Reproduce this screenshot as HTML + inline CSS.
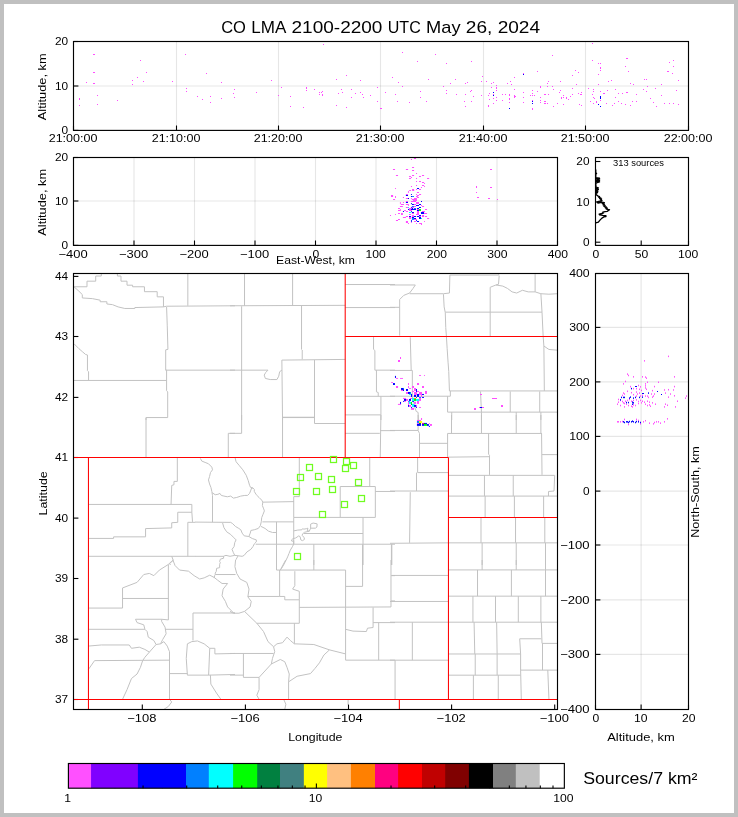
<!DOCTYPE html>
<html><head><meta charset="utf-8"><title>CO LMA 2100-2200 UTC May 26, 2024</title>
<style>
html,body{margin:0;padding:0;background:#fff;}
body{width:738px;height:817px;overflow:hidden;font-family:"Liberation Sans", sans-serif;}
svg{display:block;}
text{font-family:"Liberation Sans", sans-serif;}
</style></head><body>
<svg width="738" height="817" viewBox="0 0 738 817" font-family='"Liberation Sans", sans-serif'>
<rect x="0" y="0" width="738" height="817" fill="#c0c0c0"/>
<rect x="4" y="4" width="730" height="809" fill="#fff"/>
<g opacity="0.999">
<text x="221.13" y="33.4" font-size="16.6" text-anchor="start" fill="#000" textLength="24.76" lengthAdjust="spacingAndGlyphs">CO</text>
<text x="251.19" y="33.4" font-size="16.6" text-anchor="start" fill="#000" textLength="35.07" lengthAdjust="spacingAndGlyphs">LMA</text>
<text x="291.56" y="33.4" font-size="16.6" text-anchor="start" fill="#000" textLength="90.87" lengthAdjust="spacingAndGlyphs">2100-2200</text>
<text x="387.73" y="33.4" font-size="16.6" text-anchor="start" fill="#000" textLength="33.05" lengthAdjust="spacingAndGlyphs">UTC</text>
<text x="426.07" y="33.4" font-size="16.6" text-anchor="start" fill="#000" textLength="34.46" lengthAdjust="spacingAndGlyphs">May</text>
<text x="465.84" y="33.4" font-size="16.6" text-anchor="start" fill="#000" textLength="26.51" lengthAdjust="spacingAndGlyphs">26,</text>
<text x="497.65" y="33.4" font-size="16.6" text-anchor="start" fill="#000" textLength="42.43" lengthAdjust="spacingAndGlyphs">2024</text>
<line x1="176.5" y1="41.5" x2="176.5" y2="130.4" stroke="#000" stroke-width="1.2" stroke-opacity="0.1"/>
<line x1="278.5" y1="41.5" x2="278.5" y2="130.4" stroke="#000" stroke-width="1.2" stroke-opacity="0.1"/>
<line x1="380.5" y1="41.5" x2="380.5" y2="130.4" stroke="#000" stroke-width="1.2" stroke-opacity="0.1"/>
<line x1="483.5" y1="41.5" x2="483.5" y2="130.4" stroke="#000" stroke-width="1.2" stroke-opacity="0.1"/>
<line x1="585.5" y1="41.5" x2="585.5" y2="130.4" stroke="#000" stroke-width="1.2" stroke-opacity="0.1"/>
<line x1="73.5" y1="86" x2="688.5" y2="86" stroke="#000" stroke-width="1.2" stroke-opacity="0.1"/>
<line x1="73.5" y1="130.4" x2="73.5" y2="125.5" stroke="#000" stroke-width="1.1"/>
<text x="48.67" y="142.3" font-size="10.9" text-anchor="start" fill="#000" textLength="48.86" lengthAdjust="spacingAndGlyphs">21:00:00</text>
<line x1="176.5" y1="130.4" x2="176.5" y2="125.5" stroke="#000" stroke-width="1.1"/>
<text x="151.67" y="142.3" font-size="10.9" text-anchor="start" fill="#000" textLength="48.86" lengthAdjust="spacingAndGlyphs">21:10:00</text>
<line x1="278.5" y1="130.4" x2="278.5" y2="125.5" stroke="#000" stroke-width="1.1"/>
<text x="253.67" y="142.3" font-size="10.9" text-anchor="start" fill="#000" textLength="48.86" lengthAdjust="spacingAndGlyphs">21:20:00</text>
<line x1="380.5" y1="130.4" x2="380.5" y2="125.5" stroke="#000" stroke-width="1.1"/>
<text x="355.67" y="142.3" font-size="10.9" text-anchor="start" fill="#000" textLength="48.86" lengthAdjust="spacingAndGlyphs">21:30:00</text>
<line x1="483.5" y1="130.4" x2="483.5" y2="125.5" stroke="#000" stroke-width="1.1"/>
<text x="458.67" y="142.3" font-size="10.9" text-anchor="start" fill="#000" textLength="48.86" lengthAdjust="spacingAndGlyphs">21:40:00</text>
<line x1="585.5" y1="130.4" x2="585.5" y2="125.5" stroke="#000" stroke-width="1.1"/>
<text x="560.67" y="142.3" font-size="10.9" text-anchor="start" fill="#000" textLength="48.86" lengthAdjust="spacingAndGlyphs">21:50:00</text>
<line x1="688.5" y1="130.4" x2="688.5" y2="125.5" stroke="#000" stroke-width="1.1"/>
<text x="663.67" y="142.3" font-size="10.9" text-anchor="start" fill="#000" textLength="48.86" lengthAdjust="spacingAndGlyphs">22:00:00</text>
<line x1="73.5" y1="130.4" x2="78.4" y2="130.4" stroke="#000" stroke-width="1.1"/>
<text x="61.56" y="134.3" font-size="10.9" text-anchor="start" fill="#000" textLength="6.59" lengthAdjust="spacingAndGlyphs">0</text>
<line x1="73.5" y1="86" x2="78.4" y2="86" stroke="#000" stroke-width="1.1"/>
<text x="54.97" y="89.9" font-size="10.9" text-anchor="start" fill="#000" textLength="13.18" lengthAdjust="spacingAndGlyphs">10</text>
<line x1="73.5" y1="41.5" x2="78.4" y2="41.5" stroke="#000" stroke-width="1.1"/>
<text x="54.97" y="45.4" font-size="10.9" text-anchor="start" fill="#000" textLength="13.18" lengthAdjust="spacingAndGlyphs">20</text>
<text x="46.1" y="86.8" font-size="10.5" text-anchor="middle" fill="#000" textLength="66.8" lengthAdjust="spacingAndGlyphs" transform="rotate(-90 46.1 86.8)">Altitude, km</text>
<line x1="134" y1="157.5" x2="134" y2="245.4" stroke="#000" stroke-width="1.2" stroke-opacity="0.1"/>
<line x1="194.5" y1="157.5" x2="194.5" y2="245.4" stroke="#000" stroke-width="1.2" stroke-opacity="0.1"/>
<line x1="255" y1="157.5" x2="255" y2="245.4" stroke="#000" stroke-width="1.2" stroke-opacity="0.1"/>
<line x1="315.5" y1="157.5" x2="315.5" y2="245.4" stroke="#000" stroke-width="1.2" stroke-opacity="0.1"/>
<line x1="376" y1="157.5" x2="376" y2="245.4" stroke="#000" stroke-width="1.2" stroke-opacity="0.1"/>
<line x1="436.5" y1="157.5" x2="436.5" y2="245.4" stroke="#000" stroke-width="1.2" stroke-opacity="0.1"/>
<line x1="497" y1="157.5" x2="497" y2="245.4" stroke="#000" stroke-width="1.2" stroke-opacity="0.1"/>
<line x1="73.5" y1="201" x2="557.5" y2="201" stroke="#000" stroke-width="1.2" stroke-opacity="0.1"/>
<line x1="73.5" y1="245.4" x2="73.5" y2="240.5" stroke="#000" stroke-width="1.1"/>
<text x="58.51" y="258" font-size="10.9" text-anchor="start" fill="#000" textLength="29.19" lengthAdjust="spacingAndGlyphs">−400</text>
<line x1="134" y1="245.4" x2="134" y2="240.5" stroke="#000" stroke-width="1.1"/>
<text x="119.01" y="258" font-size="10.9" text-anchor="start" fill="#000" textLength="29.19" lengthAdjust="spacingAndGlyphs">−300</text>
<line x1="194.5" y1="245.4" x2="194.5" y2="240.5" stroke="#000" stroke-width="1.1"/>
<text x="179.51" y="258" font-size="10.9" text-anchor="start" fill="#000" textLength="29.19" lengthAdjust="spacingAndGlyphs">−200</text>
<line x1="255" y1="245.4" x2="255" y2="240.5" stroke="#000" stroke-width="1.1"/>
<text x="240.01" y="258" font-size="10.9" text-anchor="start" fill="#000" textLength="29.19" lengthAdjust="spacingAndGlyphs">−100</text>
<line x1="315.5" y1="245.4" x2="315.5" y2="240.5" stroke="#000" stroke-width="1.1"/>
<text x="312.47" y="258" font-size="10.9" text-anchor="start" fill="#000" textLength="6.76" lengthAdjust="spacingAndGlyphs">0</text>
<line x1="376" y1="245.4" x2="376" y2="240.5" stroke="#000" stroke-width="1.1"/>
<text x="365.56" y="258" font-size="10.9" text-anchor="start" fill="#000" textLength="20.29" lengthAdjust="spacingAndGlyphs">100</text>
<line x1="436.5" y1="245.4" x2="436.5" y2="240.5" stroke="#000" stroke-width="1.1"/>
<text x="426.71" y="258" font-size="10.9" text-anchor="start" fill="#000" textLength="20.29" lengthAdjust="spacingAndGlyphs">200</text>
<line x1="497" y1="245.4" x2="497" y2="240.5" stroke="#000" stroke-width="1.1"/>
<text x="487.21" y="258" font-size="10.9" text-anchor="start" fill="#000" textLength="20.29" lengthAdjust="spacingAndGlyphs">300</text>
<line x1="557.5" y1="245.4" x2="557.5" y2="240.5" stroke="#000" stroke-width="1.1"/>
<text x="547.71" y="258" font-size="10.9" text-anchor="start" fill="#000" textLength="20.29" lengthAdjust="spacingAndGlyphs">400</text>
<line x1="73.5" y1="245.4" x2="78.4" y2="245.4" stroke="#000" stroke-width="1.1"/>
<text x="61.56" y="249.3" font-size="10.9" text-anchor="start" fill="#000" textLength="6.59" lengthAdjust="spacingAndGlyphs">0</text>
<line x1="73.5" y1="201" x2="78.4" y2="201" stroke="#000" stroke-width="1.1"/>
<text x="54.97" y="204.9" font-size="10.9" text-anchor="start" fill="#000" textLength="13.18" lengthAdjust="spacingAndGlyphs">10</text>
<line x1="73.5" y1="157.5" x2="78.4" y2="157.5" stroke="#000" stroke-width="1.1"/>
<text x="54.97" y="161.4" font-size="10.9" text-anchor="start" fill="#000" textLength="13.18" lengthAdjust="spacingAndGlyphs">20</text>
<text x="46.1" y="202.3" font-size="10.5" text-anchor="middle" fill="#000" textLength="66.8" lengthAdjust="spacingAndGlyphs" transform="rotate(-90 46.1 202.3)">Altitude, km</text>
<text x="315.5" y="264" font-size="10.9" text-anchor="middle" fill="#000" textLength="79" lengthAdjust="spacingAndGlyphs">East-West, km</text>
<line x1="595.5" y1="242.2" x2="600.4" y2="242.2" stroke="#000" stroke-width="1.1"/>
<text x="582.96" y="246.1" font-size="10.9" text-anchor="start" fill="#000" textLength="6.59" lengthAdjust="spacingAndGlyphs">0</text>
<line x1="595.5" y1="201.9" x2="600.4" y2="201.9" stroke="#000" stroke-width="1.1"/>
<text x="576.37" y="205.8" font-size="10.9" text-anchor="start" fill="#000" textLength="13.18" lengthAdjust="spacingAndGlyphs">10</text>
<line x1="595.5" y1="161.5" x2="600.4" y2="161.5" stroke="#000" stroke-width="1.1"/>
<text x="576.37" y="165.4" font-size="10.9" text-anchor="start" fill="#000" textLength="13.18" lengthAdjust="spacingAndGlyphs">20</text>
<line x1="595.5" y1="245.4" x2="595.5" y2="240.5" stroke="#000" stroke-width="1.1"/>
<text x="592.47" y="258" font-size="10.9" text-anchor="start" fill="#000" textLength="6.76" lengthAdjust="spacingAndGlyphs">0</text>
<line x1="641.2" y1="245.4" x2="641.2" y2="240.5" stroke="#000" stroke-width="1.1"/>
<text x="634.79" y="258" font-size="10.9" text-anchor="start" fill="#000" textLength="13.52" lengthAdjust="spacingAndGlyphs">50</text>
<line x1="688.5" y1="245.4" x2="688.5" y2="240.5" stroke="#000" stroke-width="1.1"/>
<text x="678.06" y="258" font-size="10.9" text-anchor="start" fill="#000" textLength="20.29" lengthAdjust="spacingAndGlyphs">100</text>
<text x="613" y="165.9" font-size="9.4" text-anchor="start" fill="#000" textLength="51" lengthAdjust="spacingAndGlyphs">313 sources</text>
<polyline fill="none" stroke="#000" stroke-width="1.35" stroke-linejoin="round" points="595.75,222.91 598.38,222.11 599.97,220.12 601.96,218.13 603.95,216.94 605.94,216.54 605.94,215.75 602.75,215.35 599.57,214.79 599.17,214.15 601.96,213.52 603.55,212.96 602.75,212.16 605.14,211.61 607.13,211.37 609.52,209.78 607.13,209.38 605.94,208.74 607.53,208.19 605.14,207.63 606.33,206.99 603.95,206.36 605.14,205.4 603.15,205 604.34,204.21 602.36,203.65 604.34,202.62 601.56,202.22 597.98,203.01 597.18,202.22 598.77,201.42 601.96,200.63 600.76,199.83 601.56,199.03 599.57,198.64 600.76,197.84 598.77,197.44 599.57,196.65 597.58,195.85 596.39,194.66 595.75,193.46 597.58,192.67 595.99,191.87 597.98,191.08 595.99,190.44 598.38,189.49 595.99,188.85 598.38,187.89 595.99,187.1 595.75,183.92 596.39,182.72 599.57,181.93 595.75,181.37 599.57,180.73 595.75,180.1 599.57,179.14 595.75,178.5 599.57,178.19 595.75,177.55 595.75,174.37 596.55,173.57 595.75,172.77 595.75,169.59"/>
<clipPath id="mc"><rect x="73.5" y="273.5" width="484.0" height="436.0"/></clipPath>
<g clip-path="url(#mc)">
<path fill="none" stroke="#c2c2c2" stroke-width="1.0" stroke-linejoin="round" d="M101.3 274.02 L101.3 276.04 L95.71 276.04 L95.71 281.18 L86.99 281.18 L86.99 286.77 L74.02 286.77 M74.02 286.77 L78.94 291.24 L82.3 294.59 L82.3 297.95 L92.36 298.62 L100.18 300.18 L100.18 301.75 L106.89 301.75 L106.89 303.98 L112.48 304.65 L118.07 306.89 L124.78 308.46 L134.84 308.46 L134.84 307.56 L163.46 306.89 M117.4 274.02 L117.4 276.04 L120.98 276.04 L120.98 281.18 L127.01 281.18 L127.01 285.2 L132.6 285.2 L132.6 286.77 L144.45 286.77 L144.45 291.69 L157.2 291.69 L157.2 296.83 L163.46 296.83 L163.46 306.89 M187.83 274.02 L187.83 305.77 M163.46 306.89 L166.59 306.22 L235 305.77 M166.59 306.89 L167.26 325.89 L167.93 349.37 L165.69 349.82 L165.69 370.16 L166.59 370.16 L166.59 390.73 L167.7 391.85 L167.7 417.56 L146.02 417.56 L146.02 420.02 M165.69 370.16 L235 370.16 M74.02 380.45 L166.59 380.45 M74.02 343.78 L78.94 348.7 L82.3 351.61 L85.65 354.51 L87.44 354.96 L87.44 370.61 L88.56 371.73 L88.56 380.45 M244.53 274.02 L244.53 305.77 M292.6 274.02 L292.6 305.77 M230 305.77 L345.14 305.33 M241.63 306.22 L241.63 420.02 M301.54 305.77 L301.54 349.37 L302.22 350.04 L302.22 359.43 M230 370.16 L268.01 370.16 L265.77 372.4 L264.21 375.08 L265.33 378.43 L270.24 379.55 L276.95 379.55 L278.74 376.2 L279.63 371.73 L281.87 370.16 M345.14 359.43 L281.87 360.1 L282.54 420.02 M314.51 359.88 L314.51 420.02 M282.54 417.56 L314.51 417.56 M345.14 284.53 L395 284.53 M345.14 307.56 L395 307.56 M373.54 337.07 L373.54 349.37 L374.88 350.49 L374.88 370.16 L395 370.16 M376.44 370.16 L376.44 391.85 L378.23 392.52 L378.23 396.32 M345.14 396.32 L395 396.32 M380.91 396.32 L380.91 420.02 M345.14 414.88 L380.91 414.88 M390 284.97 L415.34 284.97 L413.04 288.43 L409.58 293.04 L403.82 295.34 L399.67 299.49 L399.67 335.65 M390 307.32 L399.67 307.32 M409.58 293.73 L443.44 293.73 L449.43 293.04 L449.89 275.07 L498.73 275.07 L498.73 274.15 M443.44 294.19 L444.13 306.86 L445.28 312.62 L445.75 327.59 L446.44 336.8 L447.13 348.32 L448.05 362.14 L448.74 371.36 L449.43 390.93 M445.28 312.15 L542.03 312.15 M490.2 336.8 L490.2 287.28 L495.96 284.97 L502.87 286.12 L507.48 288.43 L512.09 291.88 L516.69 293.04 L522.45 290.27 L528.21 291.88 L535.12 291.88 L540.88 293.73 L548.94 294.19 L557.24 293.73 M535.12 274.15 L535.12 291.88 M499.19 275.53 L498.5 284.28 L495.96 284.97 M540.88 293.73 L542.03 312.15 L543.18 336.8 L543.88 346.02 L544.34 390.93 M543.88 346.02 L548.94 349.47 L557.24 350.16 M449.43 390.93 L557.24 390.93 M390 370.43 L412.34 370.43 L412.34 396.23 L390 396.23 M412.34 396.23 L450.35 396.23 L450.35 390.93 M410.27 337.26 L411.19 370.43 M447.59 396.23 L447.59 412.13 L557.24 412.13 M480.53 391.4 L481.45 412.13 L481.45 419.96 M510.24 391.4 L510.24 412.13 M539.73 391.4 L539.73 412.13 M451.73 412.13 L451.73 419.96 M516.23 412.13 L516.23 419.96 M540.88 412.13 L540.88 419.96 M412.34 396.23 L413.96 403.14 L415.11 408.21 L416.26 411.44 L418.1 412.36 L418.33 419.96 M228.29 457.03 L228.29 433.33 L235 433.33 M146.02 417.68 L146.02 457.03 M177.32 457.48 L177.32 481.4 L173.96 481.4 L173.96 484.76 L171.73 485.43 L171.06 504.43 M88.33 504.43 L191.85 504.43 L191.85 512.26 L192.52 521.87 M191.85 512.26 L177.76 512.26 L177.76 522.32 L171.73 522.76 L171.73 527.91 L145.57 528.58 L145.57 536.85 L113.6 536.85 L113.6 538.41 L88.33 538.41 M187.83 556.3 L187.83 522.32 L195.2 522.32 M88.33 556.3 L195.2 556.3 M171.73 556.3 L173.29 560.33 L169.49 563.68 L170.61 565.02 M241.63 415 L241.63 433.33 L230 433.33 M282.54 457.03 L282.54 417.24 L314.51 417.24 L314.51 423.5 L345.14 423.5 M345.14 433.33 L379.8 433.33 M380.91 415 L380.24 457.03 M380.24 430.65 L395 430.65 M299.31 457.48 L299.31 496.61 L293.72 496.61 L293.72 517.4 M293.72 517.4 L375.33 517.4 M340.22 517.4 L340.22 486.54 L375.33 486.54 L375.33 517.4 M369.74 457.48 L369.74 486.54 M375.33 491.46 L395 491.46 M363.03 517.4 L363.03 565.02 M303.78 533.5 L363.03 533.5 M293.72 517.4 L293.72 544 M293.72 544.23 L395 544.23 M313.84 544.23 L313.84 565.02 M362.58 544.23 L362.58 565.02 M391.42 544.23 L391.42 565.02 M276.5 521.87 L276.5 565.02 M262.42 521.87 L293.72 521.87 M255.71 544.23 L293.72 544.23 M390 430.43 L418.1 430.43 L419.49 433.43 L419.49 457.15 M418.1 415 L418.1 430.43 M419.49 443.33 L447.59 443.33 M447.59 433.43 L447.59 457.15 M447.59 433.43 L542.03 433.43 M451.5 415 L451.5 433.43 M481.45 415 L481.45 433.43 M516.23 415 L516.23 433.43 M540.88 415 L540.88 433.43 M448.28 457.15 L489.51 456.69 M488.59 433.43 L488.59 454.16 L489.51 455.31 L489.51 474.89 M541.57 433.43 L542.03 474.89 M542.03 454.62 L557.24 454.62 M448.28 475.35 L554.7 475.35 L554.01 491.02 L548.48 491.48 L548.48 496.08 M448.28 496.08 L557.24 496.08 M484.44 475.35 L484.44 496.08 M513.24 475.35 L513.24 496.08 M485.14 496.08 L485.14 517.05 M514.39 496.08 L514.39 517.05 M543.64 496.08 L543.64 517.05 M417.64 457.15 L417.64 472.59 M417.64 472.59 L448.28 472.59 M416.49 472.59 L416.49 491.02 M390 491.02 L448.28 491.02 M410.27 492.17 L409.58 542.85 M390 543.31 L448.28 542.85 M391.84 544 L391.84 564.96 M480.99 517.51 L480.99 542.85 M515.54 517.51 L515.54 542.85 M544.8 517.51 L544.8 542.85 M448.28 542.85 L557.24 542.85 M482.14 542.85 L482.14 564.96 M516.23 542.85 L516.23 564.96 M545.49 542.85 L545.49 564.96 M88.33 608.07 L122.54 608.07 L122.54 587.95 L137.07 582.36 L143.78 574.53 L149.37 573.41 L153.84 575.65 L159.43 570.06 L168.37 564.47 L171.73 561.12 L172.85 560 M122.54 598.46 L168.37 598.46 M161.67 619.25 L168.37 619.92 M168.37 564.47 L168.37 619.92 M172.85 560 L175.08 565.59 L179.55 570.06 L188.5 571.18 L194.09 575.65 L199.67 579 L204.15 577.89 L209.74 575.2 L214.21 577.44 L217.56 580.12 L222.03 583.48 L227.62 583.48 L223.15 589.07 L222.03 595.77 L225.39 601.36 L227.62 606.95 L233.21 612.54 L235 613.21 M215.33 574.53 L235 574.53 M192.97 640.49 L192.97 612.99 L235 612.99 M165.02 629.31 L192.97 629.31 M88.33 629.31 L144.9 629.31 M135.51 619.25 L161.67 619.25 L161.67 621.48 L165.02 627.07 L166.14 633.78 L162.78 639.37 L160.55 643.84 L156.08 644.51 L153.84 640.49 L148.25 637.13 L147.13 631.54 L144.9 629.31 L143.78 624.84 L137.07 622.6 L135.51 619.25 M88.33 646.08 L101.3 644.96 L129.25 644.96 L131.48 648.31 L139.31 647.2 L144.9 649.43 L149.37 652.11 L156.08 644.51 M149.37 652.11 L144.9 657.26 L142.66 660.61 M160.55 643.84 L163.9 641.61 L167.26 646.08 L169.49 651.67 L169.49 699.29 L171.73 701.97 L168.37 706.44 L163.9 709.35 M88.33 669.55 L94.59 660.61 L169.04 660.16 M142.66 660.61 L140.43 667.32 L137.07 674.02 L131.48 678.5 L127.01 689.67 L122.54 699.29 M169.04 673.58 L187.38 673.58 M187.38 643.84 L186.26 658.37 L187.38 675.14 L208.62 675.14 L209.74 648.31 L204.15 643.84 L197.44 640.93 L191.85 641.61 L187.38 643.84 M209.74 648.31 L214.88 648.31 L214.88 653.9 L235 653.46 M208.62 675.14 L235 674.47 M210.41 675.14 L210.85 684.09 L216.44 693.03 L220.91 699.29 M235.59 560 L234.92 566.71 L236.71 573.41 L240.06 579 L246.77 582.36 L249 589.07 L247.89 596.89 L251.24 601.36 L250.12 606.95 L244.53 611.42 L238.94 613.21 L233.35 613.21 L230 611.42 M230 574.53 L235.59 574.53 M247.89 596.44 L279.63 596.44 M276.5 560 L276.5 570.06 L345.59 570.06 M279.63 570.06 L279.63 596.44 M285.67 560 L280.3 570.06 M313.84 560 L313.84 570.06 M279.63 596.44 L284.78 596.44 L284.78 599.8 L299.31 599.8 L299.31 623.27 M294.84 571.18 L294.84 585.71 L292.6 589.07 L299.31 591.3 L299.31 599.8 M299.31 607.4 L390.98 606.95 M362.58 560 L362.58 586.38 L345.59 586.38 M345.59 570.06 L345.59 660.16 M390.98 560 L390.98 606.95 M390.98 575.65 L395 575.65 M390.98 600.91 L395 600.91 M244.53 611.42 L256.83 623.27 L299.31 623.27 M256.83 623.27 L263.54 631.54 L268.01 641.61 L273.6 646.75 M294.39 623.27 L294.39 643.84 M273.6 646.75 L276.95 643.84 L282.54 642.72 L287.01 637.13 L290.37 640.49 L294.39 643.84 L313.84 644.51 L329.49 649.88 L345.59 653.9 M273.6 646.75 L274.72 651.67 L272.48 658.37 L271.36 663.96 L259.07 677.38 M230 653.46 L273.6 653.46 M243.41 653.46 L243.41 677.38 M230 675.14 L243.41 675.14 M243.41 677.38 L259.07 677.38 L259.07 689.67 L256.83 695.26 L259.07 699.29 M271.36 663.96 L280.3 659.49 L284.78 661.73 L287.01 667.32 L289.25 674.02 L288.58 681.85 L288.58 699.29 M288.58 681.85 L297.07 676.26 L310.49 673.58 L314.96 668.43 L319.43 662.85 L323.9 655.02 L329.49 649.88 M345.59 629.31 L352.97 631.1 L366.38 631.54 L367.5 628.19 L373.09 627.52 L373.09 607.4 M345.59 660.16 L395 660.16 M378.68 622.6 L378.68 660.16 M373.09 622.6 L395 622.6 M283.66 699.29 L285.89 704.21 L284.78 709.35 M391.84 575.43 L448.28 575.43 M390 601.46 L448.28 601.46 M390 622.2 L448.28 622.2 M412.34 622.2 L412.34 660.2 M390 660.2 L448.28 660.2 M395.07 660.2 L395.07 699.36 M448.28 569.91 L557.24 569.91 M482.14 560 L482.14 569.91 M516.23 560 L516.23 569.91 M545.49 560 L545.49 569.91 M477.53 569.91 L477.53 596.17 M511.4 569.91 L511.4 596.17 M545.49 569.91 L545.49 596.17 M448.28 596.17 L557.24 596.17 M472.93 596.17 L472.93 622.2 M495.5 596.17 L495.5 622.2 M518.31 596.17 L518.31 622.2 M540.88 596.17 L540.88 622.2 M448.28 622.2 L557.24 622.2 M474.08 622.2 L474.77 653.98 M496.65 622.2 L497.11 653.98 M541.34 622.2 L542.03 643.39 L557.24 643.39 M541.34 638.78 L519.69 638.78 L520.61 653.98 L520.61 670.11 M448.28 653.98 L520.61 653.98 M475.23 653.98 L475.23 675.18 M497.11 653.98 L497.11 675.18 M448.28 675.18 L520.61 675.18 M520.61 670.11 L557.24 670.11 M542.49 643.39 L542.49 670.11 M473.39 675.18 L473.39 699.36 M498.27 675.18 L498.27 699.36 M520.61 670.11 L521.3 699.36 M547.79 670.11 L548.94 699.36 M200.39 458.37 L201.74 461.06 L205.1 462.41 L208.47 463.76 L211.84 467.13 L212.51 469.82 L210.49 472.51 L209.55 476.56 L208.47 479.93 L209.55 483.97 L210.9 487.34 L211.84 491.38 L212.25 494.07 L212.51 495.42 L212.51 522.1 M235.15 457.96 L236.09 461.74 L239.46 465.78 L242.83 469.82 L246.2 475.21 L248.22 480.6 L249.57 485.31 L250.51 487.34 L252.93 488.01 L254.28 489.36 M212.25 492.72 L215.21 494.75 L217.9 494.34 L219.93 493.4 L221.27 495.42 L223.97 496.09 L227.34 496.77 L230.7 496.09 L233.4 498.11 L236.77 497.44 L240.81 496.09 L244.85 495.42 L247.54 495.42 L249.57 493.4 L250.91 490.03 L251.59 488.01 L252.93 488.01 M254.28 489.36 L254.28 491.38 L256.3 494.75 L259 497.44 L261.69 500.13 L262.77 502.16 L262.37 505.52 L263.71 508.89 L264.39 510.91 L263.04 514.28 L261.69 517.65 L261.29 521.69 L260.34 525.73 L258.32 528.43 L254.28 529.78 L250.91 530.45 L250.24 533.14 L248.89 536.51 M262.77 502.16 L294.03 501.62 M195 522.1 L230.7 522.37 L232.72 523.71 L235.42 526.41 L238.79 528.43 L240.81 529.78 L242.16 533.14 L244.18 535.84 L248.89 536.51 M222.62 523.04 L223.97 527.75 L226.66 531.8 L230.7 534.49 L234.07 537.86 L236.09 539.88 L234.75 542.57 L234.07 546.62 L232.05 549.31 L233.4 552.68 L234.75 555.37 M248.89 536.51 L252.26 538.53 L256.3 539.88 L256.3 541.9 L254.28 543.92 L252.93 546.62 L250.91 549.31 L246.87 552.01 L244.18 555.37 L242.16 556.32 L238.11 555.78 L234.75 555.37 M195 556.32 L223.29 556.32 L225.99 555.37 L230.03 556.32 L234.75 555.37 M238.11 555.78 L236.09 559.42 L235.96 559.96 M261.02 526.41 L265.06 528.43 L268.43 531.12 L272.47 532.47 L276.24 532.47 M310.65 524.12 L313.09 523.04 L317.15 523.85 L316.88 527.1 L315.39 528.18 L310.65 528.18 L310.65 524.12 M310.65 528.18 L309.3 531.17 L307.26 530.89 L307.94 528.18 L306.31 528.73 L303.88 529.13 L302.52 528.73 L301.84 529.81 L297.78 530.08 L293.71 530.89 M309.3 531.17 L304.55 532.25 L302.52 533.88 L302.25 535.5 L303.88 537.26 L304.55 539.3 L302.52 540.65 L300.89 539.97 L300.08 536.59 L298.73 535.91 L295.75 537.94 L293.04 538.62 L291.41 539.97 L291.95 541.33 L293.71 540.65 L293.71 544.04 M293.71 544.04 L292.36 546.75 L290.33 550.14 L288.97 553.52 L287.62 556.91 L285.99 560.3 L283.55 565.04 L281.52 568.43 L279.76 570.46 M223.37 556.13 L223.71 558.16 L220.33 559.18 L219.65 561.55 L220.33 562.57 L219.65 564.26 L219.65 567.65 L216.6 568.33 L216.26 571.37 L215.24 573.07 L215.24 574.42 L214.57 575.78 L214.23 578.15 M348.1 700 L348.1 705"/>
</g>
<line x1="73.5" y1="699.5" x2="78.4" y2="699.5" stroke="#000" stroke-width="1.1"/>
<text x="54.97" y="703.4" font-size="10.9" text-anchor="start" fill="#000" textLength="13.18" lengthAdjust="spacingAndGlyphs">37</text>
<line x1="73.5" y1="639.2" x2="78.4" y2="639.2" stroke="#000" stroke-width="1.1"/>
<text x="54.97" y="643.1" font-size="10.9" text-anchor="start" fill="#000" textLength="13.18" lengthAdjust="spacingAndGlyphs">38</text>
<line x1="73.5" y1="578.5" x2="78.4" y2="578.5" stroke="#000" stroke-width="1.1"/>
<text x="54.97" y="582.4" font-size="10.9" text-anchor="start" fill="#000" textLength="13.18" lengthAdjust="spacingAndGlyphs">39</text>
<line x1="73.5" y1="518.1" x2="78.4" y2="518.1" stroke="#000" stroke-width="1.1"/>
<text x="54.97" y="522" font-size="10.9" text-anchor="start" fill="#000" textLength="13.18" lengthAdjust="spacingAndGlyphs">40</text>
<line x1="73.5" y1="457.5" x2="78.4" y2="457.5" stroke="#000" stroke-width="1.1"/>
<text x="54.97" y="461.4" font-size="10.9" text-anchor="start" fill="#000" textLength="13.18" lengthAdjust="spacingAndGlyphs">41</text>
<line x1="73.5" y1="397.4" x2="78.4" y2="397.4" stroke="#000" stroke-width="1.1"/>
<text x="54.97" y="401.3" font-size="10.9" text-anchor="start" fill="#000" textLength="13.18" lengthAdjust="spacingAndGlyphs">42</text>
<line x1="73.5" y1="336.5" x2="78.4" y2="336.5" stroke="#000" stroke-width="1.1"/>
<text x="54.97" y="340.4" font-size="10.9" text-anchor="start" fill="#000" textLength="13.18" lengthAdjust="spacingAndGlyphs">43</text>
<line x1="73.5" y1="276.4" x2="78.4" y2="276.4" stroke="#000" stroke-width="1.1"/>
<text x="54.97" y="280.3" font-size="10.9" text-anchor="start" fill="#000" textLength="13.18" lengthAdjust="spacingAndGlyphs">44</text>
<line x1="142.3" y1="709.5" x2="142.3" y2="704.6" stroke="#000" stroke-width="1.1"/>
<text x="127.31" y="722.3" font-size="10.9" text-anchor="start" fill="#000" textLength="29.19" lengthAdjust="spacingAndGlyphs">−108</text>
<line x1="245.4" y1="709.5" x2="245.4" y2="704.6" stroke="#000" stroke-width="1.1"/>
<text x="230.41" y="722.3" font-size="10.9" text-anchor="start" fill="#000" textLength="29.19" lengthAdjust="spacingAndGlyphs">−106</text>
<line x1="348.5" y1="709.5" x2="348.5" y2="704.6" stroke="#000" stroke-width="1.1"/>
<text x="333.51" y="722.3" font-size="10.9" text-anchor="start" fill="#000" textLength="29.19" lengthAdjust="spacingAndGlyphs">−104</text>
<line x1="451.6" y1="709.5" x2="451.6" y2="704.6" stroke="#000" stroke-width="1.1"/>
<text x="436.61" y="722.3" font-size="10.9" text-anchor="start" fill="#000" textLength="29.19" lengthAdjust="spacingAndGlyphs">−102</text>
<line x1="554.7" y1="709.5" x2="554.7" y2="704.6" stroke="#000" stroke-width="1.1"/>
<text x="539.71" y="722.3" font-size="10.9" text-anchor="start" fill="#000" textLength="29.19" lengthAdjust="spacingAndGlyphs">−100</text>
<g clip-path="url(#mc)">
<line x1="345.2" y1="273.5" x2="345.2" y2="457.5" stroke="#ff0000" stroke-width="1.05"/>
<line x1="345.2" y1="336.5" x2="557.5" y2="336.5" stroke="#ff0000" stroke-width="1.05"/>
<line x1="73.5" y1="457.5" x2="448.45" y2="457.5" stroke="#ff0000" stroke-width="1.05"/>
<line x1="88.45" y1="457.5" x2="88.45" y2="709.5" stroke="#ff0000" stroke-width="1.05"/>
<line x1="448.45" y1="457.5" x2="448.45" y2="699.5" stroke="#ff0000" stroke-width="1.05"/>
<line x1="448.45" y1="517.5" x2="557.5" y2="517.5" stroke="#ff0000" stroke-width="1.05"/>
<line x1="73.5" y1="699.5" x2="557.5" y2="699.5" stroke="#ff0000" stroke-width="1.05"/>
<line x1="399.35" y1="699.5" x2="399.35" y2="709.5" stroke="#ff0000" stroke-width="1.05"/>
</g>
<rect x="330.5" y="456.5" width="6" height="6" fill="none" stroke="#70fc20" stroke-width="1.25"/>
<rect x="343.5" y="458.5" width="6" height="6" fill="none" stroke="#70fc20" stroke-width="1.25"/>
<rect x="350.5" y="462.5" width="6" height="6" fill="none" stroke="#70fc20" stroke-width="1.25"/>
<rect x="342.5" y="465.5" width="6" height="6" fill="none" stroke="#70fc20" stroke-width="1.25"/>
<rect x="306.5" y="464.5" width="6" height="6" fill="none" stroke="#70fc20" stroke-width="1.25"/>
<rect x="297.5" y="474.5" width="6" height="6" fill="none" stroke="#70fc20" stroke-width="1.25"/>
<rect x="315.5" y="473.5" width="6" height="6" fill="none" stroke="#70fc20" stroke-width="1.25"/>
<rect x="328.5" y="476.5" width="6" height="6" fill="none" stroke="#70fc20" stroke-width="1.25"/>
<rect x="355.5" y="479.5" width="6" height="6" fill="none" stroke="#70fc20" stroke-width="1.25"/>
<rect x="293.5" y="488.5" width="6" height="6" fill="none" stroke="#70fc20" stroke-width="1.25"/>
<rect x="313.5" y="488.5" width="6" height="6" fill="none" stroke="#70fc20" stroke-width="1.25"/>
<rect x="329.5" y="486.5" width="6" height="6" fill="none" stroke="#70fc20" stroke-width="1.25"/>
<rect x="358.5" y="495.5" width="6" height="6" fill="none" stroke="#70fc20" stroke-width="1.25"/>
<rect x="341.5" y="501.5" width="6" height="6" fill="none" stroke="#70fc20" stroke-width="1.25"/>
<rect x="319.5" y="511.5" width="6" height="6" fill="none" stroke="#70fc20" stroke-width="1.25"/>
<rect x="294.5" y="553.5" width="6" height="6" fill="none" stroke="#70fc20" stroke-width="1.25"/>
<text x="46.6" y="493.4" font-size="10.5" text-anchor="middle" fill="#000" textLength="44.2" lengthAdjust="spacingAndGlyphs" transform="rotate(-90 46.6 493.4)">Latitude</text>
<text x="315.3" y="740.6" font-size="10.6" text-anchor="middle" fill="#000" textLength="54.2" lengthAdjust="spacingAndGlyphs">Longitude</text>
<line x1="641.1" y1="273.5" x2="641.1" y2="709.5" stroke="#000" stroke-width="1.2" stroke-opacity="0.1"/>
<line x1="595.5" y1="327.4" x2="688.5" y2="327.4" stroke="#000" stroke-width="1.2" stroke-opacity="0.1"/>
<line x1="595.5" y1="381.9" x2="688.5" y2="381.9" stroke="#000" stroke-width="1.2" stroke-opacity="0.1"/>
<line x1="595.5" y1="436.4" x2="688.5" y2="436.4" stroke="#000" stroke-width="1.2" stroke-opacity="0.1"/>
<line x1="595.5" y1="491.1" x2="688.5" y2="491.1" stroke="#000" stroke-width="1.2" stroke-opacity="0.1"/>
<line x1="595.5" y1="545" x2="688.5" y2="545" stroke="#000" stroke-width="1.2" stroke-opacity="0.1"/>
<line x1="595.5" y1="599.9" x2="688.5" y2="599.9" stroke="#000" stroke-width="1.2" stroke-opacity="0.1"/>
<line x1="595.5" y1="654.4" x2="688.5" y2="654.4" stroke="#000" stroke-width="1.2" stroke-opacity="0.1"/>
<line x1="595.5" y1="273.5" x2="600.4" y2="273.5" stroke="#000" stroke-width="1.1"/>
<text x="569.16" y="277.4" font-size="10.9" text-anchor="start" fill="#000" textLength="20.49" lengthAdjust="spacingAndGlyphs">400</text>
<line x1="595.5" y1="327.4" x2="600.4" y2="327.4" stroke="#000" stroke-width="1.1"/>
<text x="569.16" y="331.3" font-size="10.9" text-anchor="start" fill="#000" textLength="20.49" lengthAdjust="spacingAndGlyphs">300</text>
<line x1="595.5" y1="381.9" x2="600.4" y2="381.9" stroke="#000" stroke-width="1.1"/>
<text x="569.16" y="385.8" font-size="10.9" text-anchor="start" fill="#000" textLength="20.49" lengthAdjust="spacingAndGlyphs">200</text>
<line x1="595.5" y1="436.4" x2="600.4" y2="436.4" stroke="#000" stroke-width="1.1"/>
<text x="569.16" y="440.3" font-size="10.9" text-anchor="start" fill="#000" textLength="20.49" lengthAdjust="spacingAndGlyphs">100</text>
<line x1="595.5" y1="491.1" x2="600.4" y2="491.1" stroke="#000" stroke-width="1.1"/>
<text x="583.06" y="495" font-size="10.9" text-anchor="start" fill="#000" textLength="6.59" lengthAdjust="spacingAndGlyphs">0</text>
<line x1="595.5" y1="545" x2="600.4" y2="545" stroke="#000" stroke-width="1.1"/>
<text x="560.16" y="548.9" font-size="10.9" text-anchor="start" fill="#000" textLength="29.49" lengthAdjust="spacingAndGlyphs">−100</text>
<line x1="595.5" y1="599.9" x2="600.4" y2="599.9" stroke="#000" stroke-width="1.1"/>
<text x="560.16" y="603.8" font-size="10.9" text-anchor="start" fill="#000" textLength="29.49" lengthAdjust="spacingAndGlyphs">−200</text>
<line x1="595.5" y1="654.4" x2="600.4" y2="654.4" stroke="#000" stroke-width="1.1"/>
<text x="560.16" y="658.3" font-size="10.9" text-anchor="start" fill="#000" textLength="29.49" lengthAdjust="spacingAndGlyphs">−300</text>
<line x1="595.5" y1="709.5" x2="600.4" y2="709.5" stroke="#000" stroke-width="1.1"/>
<text x="560.16" y="713.4" font-size="10.9" text-anchor="start" fill="#000" textLength="29.49" lengthAdjust="spacingAndGlyphs">−400</text>
<line x1="595.5" y1="709.5" x2="595.5" y2="704.6" stroke="#000" stroke-width="1.1"/>
<text x="592.47" y="722.3" font-size="10.9" text-anchor="start" fill="#000" textLength="6.76" lengthAdjust="spacingAndGlyphs">0</text>
<line x1="641.1" y1="709.5" x2="641.1" y2="704.6" stroke="#000" stroke-width="1.1"/>
<text x="634.04" y="722.3" font-size="10.9" text-anchor="start" fill="#000" textLength="13.52" lengthAdjust="spacingAndGlyphs">10</text>
<line x1="688.5" y1="709.5" x2="688.5" y2="704.6" stroke="#000" stroke-width="1.1"/>
<text x="682.09" y="722.3" font-size="10.9" text-anchor="start" fill="#000" textLength="13.52" lengthAdjust="spacingAndGlyphs">20</text>
<text x="641" y="740.6" font-size="10.6" text-anchor="middle" fill="#000" textLength="67.5" lengthAdjust="spacingAndGlyphs">Altitude, km</text>
<text x="699.3" y="492" font-size="10.5" text-anchor="middle" fill="#000" textLength="91.5" lengthAdjust="spacingAndGlyphs" transform="rotate(-90 699.3 492)">North-South, km</text>
<rect x="93" y="54" width="2" height="1" fill="#ff4dff"/>
<rect x="93" y="72" width="2" height="1" fill="#ff4dff"/>
<rect x="93" y="83" width="2" height="1" fill="#ff4dff"/>
<rect x="86" y="82" width="1" height="1" fill="#ff4dff"/>
<rect x="79" y="98" width="1" height="2" fill="#ff4dff"/>
<rect x="79" y="105" width="1" height="1" fill="#ff4dff"/>
<rect x="97" y="95" width="1" height="1" fill="#ff4dff"/>
<rect x="97" y="104" width="1" height="1" fill="#ff4dff"/>
<rect x="117" y="100" width="1" height="1" fill="#ff4dff"/>
<rect x="132" y="80" width="1" height="1" fill="#ff4dff"/>
<rect x="132" y="84" width="1" height="1" fill="#ff4dff"/>
<rect x="137" y="77" width="1" height="1" fill="#ff4dff"/>
<rect x="140" y="60" width="1" height="1" fill="#ff4dff"/>
<rect x="143" y="81" width="1" height="1" fill="#ff4dff"/>
<rect x="146" y="72" width="1" height="1" fill="#ff4dff"/>
<rect x="172" y="81" width="1" height="1" fill="#ff4dff"/>
<rect x="185" y="54" width="1" height="1" fill="#ff4dff"/>
<rect x="206" y="73" width="1" height="1" fill="#ff4dff"/>
<rect x="221" y="82" width="1" height="1" fill="#ff4dff"/>
<rect x="271" y="80" width="1" height="1" fill="#ff4dff"/>
<rect x="186" y="88" width="1" height="1" fill="#ff4dff"/>
<rect x="186" y="91" width="1" height="1" fill="#ff4dff"/>
<rect x="197" y="96" width="1" height="1" fill="#ff4dff"/>
<rect x="202" y="99" width="1" height="1" fill="#ff4dff"/>
<rect x="210" y="96" width="1" height="1" fill="#ff4dff"/>
<rect x="210" y="102" width="1" height="1" fill="#ff4dff"/>
<rect x="221" y="98" width="1" height="1" fill="#ff4dff"/>
<rect x="234" y="89" width="1" height="1" fill="#ff4dff"/>
<rect x="233" y="93" width="1" height="1" fill="#ff4dff"/>
<rect x="234" y="97" width="1" height="1" fill="#ff4dff"/>
<rect x="256" y="92" width="1" height="1" fill="#ff4dff"/>
<rect x="278" y="95" width="1" height="1" fill="#ff4dff"/>
<rect x="323" y="44" width="1" height="1" fill="#ff4dff"/>
<rect x="346" y="75" width="1" height="1" fill="#ff4dff"/>
<rect x="336" y="79" width="1" height="1" fill="#ff4dff"/>
<rect x="360" y="80" width="1" height="1" fill="#ff4dff"/>
<rect x="281" y="87" width="1" height="1" fill="#ff4dff"/>
<rect x="306" y="87" width="1" height="1" fill="#ff4dff"/>
<rect x="306" y="88" width="1" height="1" fill="#ff4dff"/>
<rect x="306" y="90" width="1" height="1" fill="#ff4dff"/>
<rect x="314" y="89" width="1" height="1" fill="#ff4dff"/>
<rect x="319" y="92" width="1" height="1" fill="#ff4dff"/>
<rect x="321" y="92" width="1" height="1" fill="#ff4dff"/>
<rect x="322" y="91" width="1" height="1" fill="#ff4dff"/>
<rect x="319" y="94" width="1" height="1" fill="#ff4dff"/>
<rect x="322" y="94" width="1" height="1" fill="#ff4dff"/>
<rect x="322" y="95" width="1" height="1" fill="#ff4dff"/>
<rect x="290" y="96" width="1" height="1" fill="#ff4dff"/>
<rect x="290" y="106" width="1" height="1" fill="#ff4dff"/>
<rect x="303" y="107" width="1" height="1" fill="#ff4dff"/>
<rect x="336" y="105" width="1" height="1" fill="#ff4dff"/>
<rect x="346" y="107" width="1" height="1" fill="#ff4dff"/>
<rect x="341" y="89" width="1" height="1" fill="#ff4dff"/>
<rect x="342" y="92" width="1" height="1" fill="#ff4dff"/>
<rect x="338" y="93" width="1" height="1" fill="#ff4dff"/>
<rect x="351" y="89" width="1" height="1" fill="#ff4dff"/>
<rect x="355" y="93" width="1" height="1" fill="#ff4dff"/>
<rect x="351" y="97" width="1" height="1" fill="#ff4dff"/>
<rect x="360" y="92" width="1" height="1" fill="#ff4dff"/>
<rect x="362" y="94" width="1" height="1" fill="#ff4dff"/>
<rect x="363" y="97" width="1" height="1" fill="#ff4dff"/>
<rect x="370" y="95" width="1" height="1" fill="#ff4dff"/>
<rect x="377" y="87" width="1" height="1" fill="#ff4dff"/>
<rect x="377" y="101" width="1" height="1" fill="#ff4dff"/>
<rect x="380" y="108" width="1" height="1" fill="#ff4dff"/>
<rect x="381" y="108" width="1" height="1" fill="#ff4dff"/>
<rect x="402" y="52" width="1" height="1" fill="#ff4dff"/>
<rect x="435" y="54" width="1" height="1" fill="#ff4dff"/>
<rect x="417" y="61" width="1" height="1" fill="#ff4dff"/>
<rect x="446" y="63" width="1" height="1" fill="#ff4dff"/>
<rect x="471" y="61" width="1" height="1" fill="#ff4dff"/>
<rect x="392" y="77" width="1" height="1" fill="#ff4dff"/>
<rect x="398" y="82" width="1" height="1" fill="#ff4dff"/>
<rect x="402" y="86" width="1" height="1" fill="#ff4dff"/>
<rect x="428" y="79" width="1" height="1" fill="#ff4dff"/>
<rect x="420" y="91" width="1" height="1" fill="#ff4dff"/>
<rect x="385" y="92" width="1" height="1" fill="#ff4dff"/>
<rect x="395" y="94" width="1" height="1" fill="#ff4dff"/>
<rect x="397" y="101" width="1" height="1" fill="#ff4dff"/>
<rect x="409" y="102" width="1" height="1" fill="#ff4dff"/>
<rect x="420" y="97" width="1" height="1" fill="#ff4dff"/>
<rect x="426" y="101" width="1" height="1" fill="#ff4dff"/>
<rect x="443" y="86" width="1" height="1" fill="#ff4dff"/>
<rect x="446" y="90" width="1" height="1" fill="#ff4dff"/>
<rect x="446" y="93" width="1" height="1" fill="#ff4dff"/>
<rect x="450" y="83" width="1" height="1" fill="#ff4dff"/>
<rect x="455" y="79" width="1" height="1" fill="#ff4dff"/>
<rect x="456" y="94" width="1" height="1" fill="#ff4dff"/>
<rect x="465" y="83" width="1" height="1" fill="#ff4dff"/>
<rect x="467" y="82" width="1" height="1" fill="#ff4dff"/>
<rect x="465" y="94" width="1" height="1" fill="#ff4dff"/>
<rect x="464" y="101" width="1" height="1" fill="#ff4dff"/>
<rect x="465" y="106" width="1" height="1" fill="#ff4dff"/>
<rect x="470" y="91" width="1" height="1" fill="#ff4dff"/>
<rect x="471" y="90" width="1" height="1" fill="#ff4dff"/>
<rect x="473" y="96" width="1" height="1" fill="#ff4dff"/>
<rect x="471" y="101" width="1" height="1" fill="#ff4dff"/>
<rect x="482" y="76" width="1" height="1" fill="#ff4dff"/>
<rect x="481" y="81" width="1" height="1" fill="#ff4dff"/>
<rect x="486" y="81" width="1" height="1" fill="#ff4dff"/>
<rect x="481" y="95" width="1" height="1" fill="#ff4dff"/>
<rect x="488" y="95" width="1" height="1" fill="#ff4dff"/>
<rect x="489" y="93" width="1" height="1" fill="#ff4dff"/>
<rect x="489" y="99" width="1" height="1" fill="#ff4dff"/>
<rect x="488" y="105" width="1" height="1" fill="#ff4dff"/>
<rect x="488" y="106" width="1" height="1" fill="#ff4dff"/>
<rect x="592" y="43" width="1" height="1" fill="#ff4dff"/>
<rect x="592" y="60" width="1" height="1" fill="#ff4dff"/>
<rect x="552" y="55" width="1" height="1" fill="#ff4dff"/>
<rect x="537" y="71" width="1" height="1" fill="#ff4dff"/>
<rect x="523" y="73" width="1" height="1" fill="#ff4dff"/>
<rect x="514" y="77" width="1" height="1" fill="#ff4dff"/>
<rect x="510" y="81" width="1" height="1" fill="#ff4dff"/>
<rect x="507" y="83" width="1" height="1" fill="#ff4dff"/>
<rect x="511" y="84" width="1" height="1" fill="#ff4dff"/>
<rect x="491" y="83" width="1" height="1" fill="#ff4dff"/>
<rect x="493" y="82" width="1" height="1" fill="#ff4dff"/>
<rect x="491" y="87" width="1" height="1" fill="#ff4dff"/>
<rect x="496" y="85" width="1" height="1" fill="#ff4dff"/>
<rect x="496" y="87" width="1" height="1" fill="#ff4dff"/>
<rect x="496" y="88" width="1" height="1" fill="#ff4dff"/>
<rect x="496" y="90" width="1" height="1" fill="#ff4dff"/>
<rect x="493" y="94" width="1" height="1" fill="#ff4dff"/>
<rect x="496" y="97" width="1" height="1" fill="#ff4dff"/>
<rect x="493" y="98" width="1" height="1" fill="#ff4dff"/>
<rect x="496" y="100" width="1" height="1" fill="#ff4dff"/>
<rect x="493" y="103" width="1" height="1" fill="#ff4dff"/>
<rect x="502" y="94" width="1" height="1" fill="#ff4dff"/>
<rect x="505" y="94" width="1" height="1" fill="#ff4dff"/>
<rect x="502" y="100" width="1" height="1" fill="#ff4dff"/>
<rect x="509" y="94" width="1" height="1" fill="#ff4dff"/>
<rect x="509" y="95" width="1" height="1" fill="#ff4dff"/>
<rect x="509" y="98" width="1" height="1" fill="#ff4dff"/>
<rect x="509" y="99" width="1" height="1" fill="#ff4dff"/>
<rect x="509" y="102" width="1" height="1" fill="#ff4dff"/>
<rect x="514" y="89" width="1" height="1" fill="#ff4dff"/>
<rect x="514" y="95" width="1" height="1" fill="#ff4dff"/>
<rect x="514" y="96" width="1" height="1" fill="#ff4dff"/>
<rect x="514" y="97" width="1" height="1" fill="#ff4dff"/>
<rect x="515" y="96" width="1" height="1" fill="#ff4dff"/>
<rect x="523" y="92" width="1" height="1" fill="#ff4dff"/>
<rect x="523" y="97" width="1" height="1" fill="#ff4dff"/>
<rect x="523" y="102" width="1" height="1" fill="#ff4dff"/>
<rect x="530" y="95" width="1" height="1" fill="#ff4dff"/>
<rect x="532" y="90" width="1" height="1" fill="#ff4dff"/>
<rect x="532" y="93" width="1" height="1" fill="#ff4dff"/>
<rect x="532" y="95" width="1" height="1" fill="#ff4dff"/>
<rect x="534" y="95" width="1" height="1" fill="#ff4dff"/>
<rect x="532" y="100" width="1" height="1" fill="#ff4dff"/>
<rect x="532" y="108" width="1" height="1" fill="#ff4dff"/>
<rect x="532" y="109" width="1" height="1" fill="#ff4dff"/>
<rect x="537" y="91" width="1" height="1" fill="#ff4dff"/>
<rect x="540" y="86" width="1" height="1" fill="#ff4dff"/>
<rect x="540" y="87" width="1" height="1" fill="#ff4dff"/>
<rect x="540" y="97" width="1" height="1" fill="#ff4dff"/>
<rect x="540" y="100" width="1" height="1" fill="#ff4dff"/>
<rect x="540" y="102" width="1" height="1" fill="#ff4dff"/>
<rect x="544" y="94" width="1" height="1" fill="#ff4dff"/>
<rect x="545" y="94" width="1" height="1" fill="#ff4dff"/>
<rect x="548" y="94" width="1" height="1" fill="#ff4dff"/>
<rect x="544" y="101" width="1" height="1" fill="#ff4dff"/>
<rect x="545" y="101" width="1" height="1" fill="#ff4dff"/>
<rect x="544" y="103" width="1" height="1" fill="#ff4dff"/>
<rect x="545" y="103" width="1" height="1" fill="#ff4dff"/>
<rect x="547" y="103" width="1" height="1" fill="#ff4dff"/>
<rect x="547" y="83" width="1" height="1" fill="#ff4dff"/>
<rect x="548" y="81" width="1" height="1" fill="#ff4dff"/>
<rect x="547" y="86" width="1" height="1" fill="#ff4dff"/>
<rect x="552" y="86" width="1" height="1" fill="#ff4dff"/>
<rect x="553" y="89" width="1" height="1" fill="#ff4dff"/>
<rect x="553" y="106" width="1" height="1" fill="#ff4dff"/>
<rect x="557" y="103" width="1" height="1" fill="#ff4dff"/>
<rect x="560" y="81" width="1" height="1" fill="#ff4dff"/>
<rect x="560" y="90" width="1" height="1" fill="#ff4dff"/>
<rect x="559" y="92" width="1" height="1" fill="#ff4dff"/>
<rect x="561" y="97" width="1" height="1" fill="#ff4dff"/>
<rect x="561" y="98" width="1" height="1" fill="#ff4dff"/>
<rect x="563" y="95" width="1" height="1" fill="#ff4dff"/>
<rect x="563" y="97" width="1" height="1" fill="#ff4dff"/>
<rect x="563" y="104" width="1" height="1" fill="#ff4dff"/>
<rect x="566" y="97" width="1" height="1" fill="#ff4dff"/>
<rect x="566" y="98" width="1" height="1" fill="#ff4dff"/>
<rect x="568" y="99" width="1" height="1" fill="#ff4dff"/>
<rect x="570" y="96" width="1" height="1" fill="#ff4dff"/>
<rect x="572" y="94" width="1" height="1" fill="#ff4dff"/>
<rect x="572" y="88" width="1" height="1" fill="#ff4dff"/>
<rect x="572" y="75" width="1" height="1" fill="#ff4dff"/>
<rect x="575" y="70" width="1" height="1" fill="#ff4dff"/>
<rect x="578" y="72" width="1" height="1" fill="#ff4dff"/>
<rect x="576" y="84" width="1" height="1" fill="#ff4dff"/>
<rect x="578" y="93" width="1" height="1" fill="#ff4dff"/>
<rect x="580" y="94" width="1" height="1" fill="#ff4dff"/>
<rect x="581" y="94" width="1" height="1" fill="#ff4dff"/>
<rect x="581" y="92" width="1" height="1" fill="#ff4dff"/>
<rect x="579" y="104" width="1" height="1" fill="#ff4dff"/>
<rect x="581" y="105" width="1" height="1" fill="#ff4dff"/>
<rect x="588" y="88" width="1" height="1" fill="#ff4dff"/>
<rect x="593" y="89" width="1" height="1" fill="#ff4dff"/>
<rect x="593" y="91" width="1" height="1" fill="#ff4dff"/>
<rect x="592" y="94" width="1" height="1" fill="#ff4dff"/>
<rect x="593" y="97" width="1" height="1" fill="#ff4dff"/>
<rect x="594" y="98" width="1" height="1" fill="#ff4dff"/>
<rect x="590" y="101" width="1" height="1" fill="#ff4dff"/>
<rect x="593" y="103" width="1" height="1" fill="#ff4dff"/>
<rect x="523" y="74" width="1" height="1" fill="#0000ff"/>
<rect x="493" y="92" width="1" height="1" fill="#0000ff"/>
<rect x="493" y="95" width="1" height="1" fill="#0000ff"/>
<rect x="509" y="108" width="1" height="1" fill="#0000ff"/>
<rect x="532" y="101" width="1" height="1" fill="#0000ff"/>
<rect x="532" y="103" width="1" height="1" fill="#0000ff"/>
<rect x="626" y="58" width="1" height="1" fill="#ff4dff"/>
<rect x="627" y="58" width="1" height="1" fill="#ff4dff"/>
<rect x="598" y="63" width="1" height="1" fill="#ff4dff"/>
<rect x="600" y="63" width="1" height="1" fill="#ff4dff"/>
<rect x="600" y="67" width="1" height="1" fill="#ff4dff"/>
<rect x="600" y="68" width="1" height="1" fill="#ff4dff"/>
<rect x="600" y="70" width="1" height="1" fill="#ff4dff"/>
<rect x="598" y="74" width="1" height="1" fill="#ff4dff"/>
<rect x="625" y="66" width="1" height="1" fill="#ff4dff"/>
<rect x="628" y="71" width="1" height="1" fill="#ff4dff"/>
<rect x="598" y="84" width="1" height="1" fill="#ff4dff"/>
<rect x="608" y="81" width="1" height="1" fill="#ff4dff"/>
<rect x="611" y="80" width="1" height="1" fill="#ff4dff"/>
<rect x="630" y="83" width="1" height="1" fill="#ff4dff"/>
<rect x="633" y="84" width="1" height="1" fill="#ff4dff"/>
<rect x="600" y="91" width="1" height="1" fill="#ff4dff"/>
<rect x="603" y="93" width="1" height="1" fill="#ff4dff"/>
<rect x="604" y="93" width="1" height="1" fill="#ff4dff"/>
<rect x="607" y="90" width="1" height="1" fill="#ff4dff"/>
<rect x="615" y="89" width="1" height="1" fill="#ff4dff"/>
<rect x="618" y="93" width="1" height="1" fill="#ff4dff"/>
<rect x="622" y="93" width="1" height="1" fill="#ff4dff"/>
<rect x="626" y="92" width="1" height="1" fill="#ff4dff"/>
<rect x="627" y="92" width="1" height="1" fill="#ff4dff"/>
<rect x="615" y="97" width="1" height="1" fill="#ff4dff"/>
<rect x="600" y="100" width="1" height="1" fill="#ff4dff"/>
<rect x="596" y="101" width="1" height="1" fill="#ff4dff"/>
<rect x="596" y="102" width="1" height="1" fill="#ff4dff"/>
<rect x="606" y="103" width="1" height="1" fill="#ff4dff"/>
<rect x="612" y="105" width="1" height="1" fill="#ff4dff"/>
<rect x="614" y="103" width="1" height="1" fill="#ff4dff"/>
<rect x="618" y="101" width="1" height="1" fill="#ff4dff"/>
<rect x="621" y="103" width="1" height="1" fill="#ff4dff"/>
<rect x="625" y="104" width="1" height="1" fill="#ff4dff"/>
<rect x="630" y="105" width="1" height="1" fill="#ff4dff"/>
<rect x="632" y="101" width="1" height="1" fill="#ff4dff"/>
<rect x="636" y="101" width="1" height="1" fill="#ff4dff"/>
<rect x="636" y="94" width="1" height="1" fill="#ff4dff"/>
<rect x="644" y="79" width="1" height="1" fill="#ff4dff"/>
<rect x="646" y="79" width="1" height="1" fill="#ff4dff"/>
<rect x="647" y="86" width="1" height="1" fill="#ff4dff"/>
<rect x="643" y="89" width="1" height="1" fill="#ff4dff"/>
<rect x="646" y="91" width="1" height="1" fill="#ff4dff"/>
<rect x="650" y="98" width="1" height="1" fill="#ff4dff"/>
<rect x="653" y="102" width="1" height="1" fill="#ff4dff"/>
<rect x="656" y="106" width="1" height="1" fill="#ff4dff"/>
<rect x="655" y="88" width="1" height="1" fill="#ff4dff"/>
<rect x="661" y="84" width="1" height="1" fill="#ff4dff"/>
<rect x="661" y="95" width="1" height="1" fill="#ff4dff"/>
<rect x="664" y="103" width="1" height="1" fill="#ff4dff"/>
<rect x="669" y="103" width="1" height="1" fill="#ff4dff"/>
<rect x="673" y="103" width="1" height="1" fill="#ff4dff"/>
<rect x="678" y="104" width="1" height="1" fill="#ff4dff"/>
<rect x="676" y="90" width="1" height="1" fill="#ff4dff"/>
<rect x="678" y="80" width="1" height="1" fill="#ff4dff"/>
<rect x="672" y="73" width="1" height="1" fill="#ff4dff"/>
<rect x="667" y="71" width="1" height="1" fill="#ff4dff"/>
<rect x="668" y="71" width="1" height="1" fill="#ff4dff"/>
<rect x="669" y="62" width="1" height="1" fill="#ff4dff"/>
<rect x="673" y="60" width="1" height="1" fill="#ff4dff"/>
<rect x="673" y="66" width="1" height="1" fill="#ff4dff"/>
<rect x="600" y="96" width="1" height="1" fill="#0000ff"/>
<rect x="600" y="97" width="1" height="1" fill="#0000ff"/>
<rect x="600" y="98" width="1" height="1" fill="#0000ff"/>
<rect x="598" y="104" width="1" height="1" fill="#0000ff"/>
<rect x="600" y="106" width="1" height="1" fill="#0000ff"/>
<rect x="490" y="169" width="2" height="1" fill="#ff4dff"/>
<rect x="490" y="187" width="2" height="1" fill="#ff4dff"/>
<rect x="476" y="186" width="1" height="2" fill="#ff4dff"/>
<rect x="476" y="192" width="1" height="1" fill="#ff4dff"/>
<rect x="477" y="197" width="2" height="1" fill="#ff4dff"/>
<rect x="488" y="198" width="2" height="1" fill="#ff4dff"/>
<rect x="497" y="199" width="1" height="1" fill="#ff4dff"/>
<rect x="398" y="360" width="2" height="2" fill="#ff4dff"/>
<rect x="400" y="357" width="1" height="2" fill="#ff4dff"/>
<rect x="480" y="394" width="2" height="1" fill="#ff4dff"/>
<rect x="492" y="398" width="5" height="1" fill="#ff4dff"/>
<rect x="501" y="405" width="2" height="2" fill="#ff4dff"/>
<rect x="474" y="408" width="2" height="2" fill="#ff4dff"/>
<rect x="479" y="407" width="5" height="1" fill="#ff4dff"/>
<rect x="480" y="407" width="2" height="1" fill="#0000ff"/>
<rect x="668" y="355.62" width="1" height="1.5" fill="#ff4dff"/>
<rect x="644" y="360.09" width="1" height="1.5" fill="#ff4dff"/>
<rect x="627" y="373.37" width="1" height="1.5" fill="#ff4dff"/>
<rect x="628" y="374.72" width="1" height="1.5" fill="#ff4dff"/>
<rect x="633" y="376.08" width="1" height="1.5" fill="#ff4dff"/>
<rect x="642" y="376.08" width="1" height="1.5" fill="#ff4dff"/>
<rect x="645" y="376.35" width="1" height="1.5" fill="#ff4dff"/>
<rect x="646" y="377.43" width="1" height="1.5" fill="#ff4dff"/>
<rect x="674" y="376.08" width="1" height="1.5" fill="#ff4dff"/>
<rect x="625" y="380.69" width="1" height="1.5" fill="#ff4dff"/>
<rect x="623" y="383.13" width="1" height="1.5" fill="#ff4dff"/>
<rect x="647" y="381.5" width="1" height="1.5" fill="#ff4dff"/>
<rect x="658" y="381.5" width="1" height="1.5" fill="#ff4dff"/>
<rect x="645" y="383.13" width="1" height="1.5" fill="#ff4dff"/>
<rect x="645" y="385.16" width="1" height="1.5" fill="#ff4dff"/>
<rect x="654" y="385.84" width="1" height="1.5" fill="#ff4dff"/>
<rect x="674" y="385.84" width="1" height="1.5" fill="#ff4dff"/>
<rect x="638" y="384.75" width="1" height="1.5" fill="#ff4dff"/>
<rect x="640" y="386.11" width="1" height="1.5" fill="#ff4dff"/>
<rect x="630" y="385.84" width="1" height="1.5" fill="#ff4dff"/>
<rect x="633" y="387.87" width="1" height="1.5" fill="#ff4dff"/>
<rect x="636" y="387.87" width="1" height="1.5" fill="#ff4dff"/>
<rect x="639" y="388.55" width="1" height="1.5" fill="#ff4dff"/>
<rect x="641" y="389.63" width="1" height="1.5" fill="#ff4dff"/>
<rect x="645" y="387.19" width="1" height="1.5" fill="#ff4dff"/>
<rect x="646" y="388.55" width="1" height="1.5" fill="#ff4dff"/>
<rect x="652" y="389.9" width="1" height="1.5" fill="#ff4dff"/>
<rect x="654" y="393.29" width="1" height="1.5" fill="#ff4dff"/>
<rect x="664" y="389.22" width="1" height="1.5" fill="#ff4dff"/>
<rect x="668" y="388.95" width="1" height="1.5" fill="#ff4dff"/>
<rect x="673" y="389.22" width="1" height="1.5" fill="#ff4dff"/>
<rect x="665" y="392.34" width="1" height="1.5" fill="#ff4dff"/>
<rect x="670" y="393.29" width="1" height="1.5" fill="#ff4dff"/>
<rect x="674" y="395.05" width="1" height="1.5" fill="#ff4dff"/>
<rect x="668" y="396.4" width="1" height="1.5" fill="#ff4dff"/>
<rect x="686" y="395.32" width="1" height="1.5" fill="#ff4dff"/>
<rect x="685" y="397.35" width="1" height="1.5" fill="#ff4dff"/>
<rect x="623" y="392.34" width="1" height="1.5" fill="#ff4dff"/>
<rect x="624" y="393.29" width="1" height="1.5" fill="#ff4dff"/>
<rect x="622" y="394.64" width="1" height="1.5" fill="#ff4dff"/>
<rect x="627" y="390.58" width="1" height="1.5" fill="#ff4dff"/>
<rect x="631" y="391.93" width="1" height="1.5" fill="#ff4dff"/>
<rect x="636" y="391.26" width="1" height="1.5" fill="#ff4dff"/>
<rect x="637" y="393.29" width="1" height="1.5" fill="#ff4dff"/>
<rect x="639" y="392.34" width="1" height="1.5" fill="#ff4dff"/>
<rect x="633" y="393.97" width="1" height="1.5" fill="#ff4dff"/>
<rect x="636" y="395.32" width="1" height="1.5" fill="#ff4dff"/>
<rect x="640" y="395.32" width="1" height="1.5" fill="#ff4dff"/>
<rect x="642" y="394.64" width="1" height="1.5" fill="#ff4dff"/>
<rect x="645" y="395.32" width="1" height="1.5" fill="#ff4dff"/>
<rect x="647" y="395.32" width="1" height="1.5" fill="#ff4dff"/>
<rect x="648" y="396.68" width="1" height="1.5" fill="#ff4dff"/>
<rect x="652" y="396.4" width="1" height="1.5" fill="#ff4dff"/>
<rect x="653" y="395.32" width="1" height="1.5" fill="#ff4dff"/>
<rect x="651" y="393.29" width="1" height="1.5" fill="#ff4dff"/>
<rect x="618" y="398.71" width="1" height="1.5" fill="#ff4dff"/>
<rect x="618" y="401.42" width="1" height="1.5" fill="#ff4dff"/>
<rect x="617" y="403.45" width="1" height="1.5" fill="#ff4dff"/>
<rect x="620" y="399.66" width="1" height="1.5" fill="#ff4dff"/>
<rect x="622" y="400.74" width="1" height="1.5" fill="#ff4dff"/>
<rect x="623" y="402.1" width="1" height="1.5" fill="#ff4dff"/>
<rect x="625" y="400.47" width="1" height="1.5" fill="#ff4dff"/>
<rect x="627" y="399.66" width="1" height="1.5" fill="#ff4dff"/>
<rect x="629" y="398.71" width="1" height="1.5" fill="#ff4dff"/>
<rect x="631" y="400.47" width="1" height="1.5" fill="#ff4dff"/>
<rect x="633" y="399.66" width="1" height="1.5" fill="#ff4dff"/>
<rect x="636" y="399.11" width="1" height="1.5" fill="#ff4dff"/>
<rect x="638" y="400.74" width="1" height="1.5" fill="#ff4dff"/>
<rect x="640" y="399.66" width="1" height="1.5" fill="#ff4dff"/>
<rect x="642" y="400.47" width="1" height="1.5" fill="#ff4dff"/>
<rect x="644" y="401.42" width="1" height="1.5" fill="#ff4dff"/>
<rect x="647" y="400.47" width="1" height="1.5" fill="#ff4dff"/>
<rect x="649" y="401.42" width="1" height="1.5" fill="#ff4dff"/>
<rect x="652" y="402.1" width="1" height="1.5" fill="#ff4dff"/>
<rect x="655" y="403.45" width="1" height="1.5" fill="#ff4dff"/>
<rect x="645" y="403.45" width="1" height="1.5" fill="#ff4dff"/>
<rect x="647" y="404.81" width="1" height="1.5" fill="#ff4dff"/>
<rect x="649" y="404.13" width="1" height="1.5" fill="#ff4dff"/>
<rect x="650" y="405.48" width="1" height="1.5" fill="#ff4dff"/>
<rect x="620" y="404.81" width="1" height="1.5" fill="#ff4dff"/>
<rect x="624" y="402.77" width="1" height="1.5" fill="#ff4dff"/>
<rect x="626" y="403.45" width="1" height="1.5" fill="#ff4dff"/>
<rect x="628" y="404.81" width="1" height="1.5" fill="#ff4dff"/>
<rect x="631" y="405.48" width="1" height="1.5" fill="#ff4dff"/>
<rect x="633" y="404.13" width="1" height="1.5" fill="#ff4dff"/>
<rect x="635" y="404.81" width="1" height="1.5" fill="#ff4dff"/>
<rect x="638" y="402.77" width="1" height="1.5" fill="#ff4dff"/>
<rect x="641" y="402.1" width="1" height="1.5" fill="#ff4dff"/>
<rect x="624" y="406.16" width="1" height="1.5" fill="#ff4dff"/>
<rect x="632" y="406.16" width="1" height="1.5" fill="#ff4dff"/>
<rect x="665" y="403.45" width="1" height="1.5" fill="#ff4dff"/>
<rect x="667" y="404.53" width="1" height="1.5" fill="#ff4dff"/>
<rect x="664" y="406.16" width="1" height="1.5" fill="#ff4dff"/>
<rect x="675" y="406.16" width="1" height="1.5" fill="#ff4dff"/>
<rect x="677" y="400.47" width="1" height="1.5" fill="#ff4dff"/>
<rect x="617" y="421.07" width="1" height="1.5" fill="#ff4dff"/>
<rect x="618" y="421.07" width="1" height="1.5" fill="#ff4dff"/>
<rect x="620" y="421.07" width="1" height="1.5" fill="#ff4dff"/>
<rect x="622" y="420.79" width="1" height="1.5" fill="#ff4dff"/>
<rect x="624" y="418.63" width="1" height="1.5" fill="#ff4dff"/>
<rect x="636" y="418.63" width="1" height="1.5" fill="#ff4dff"/>
<rect x="638" y="419.71" width="1" height="1.5" fill="#ff4dff"/>
<rect x="643" y="421.07" width="1" height="1.5" fill="#ff4dff"/>
<rect x="645" y="419.98" width="1" height="1.5" fill="#ff4dff"/>
<rect x="640" y="423.1" width="1" height="1.5" fill="#ff4dff"/>
<rect x="628" y="423.78" width="1" height="1.5" fill="#ff4dff"/>
<rect x="649" y="422.42" width="1" height="1.5" fill="#ff4dff"/>
<rect x="653" y="423.1" width="1" height="1.5" fill="#ff4dff"/>
<rect x="654" y="421.74" width="1" height="1.5" fill="#ff4dff"/>
<rect x="656" y="421.07" width="1" height="1.5" fill="#ff4dff"/>
<rect x="658" y="421.07" width="1" height="1.5" fill="#ff4dff"/>
<rect x="660" y="422.42" width="1" height="1.5" fill="#ff4dff"/>
<rect x="664" y="421.07" width="1" height="1.5" fill="#ff4dff"/>
<rect x="667" y="418.08" width="1" height="1.5" fill="#ff4dff"/>
<rect x="635" y="386" width="2" height="1" fill="#0000ff"/>
<rect x="631" y="387.87" width="1" height="1.5" fill="#0000ff"/>
<rect x="642" y="393" width="2" height="1" fill="#0000ff"/>
<rect x="648" y="392.34" width="1" height="1.5" fill="#0000ff"/>
<rect x="657" y="391" width="1" height="1" fill="#0000ff"/>
<rect x="661" y="394" width="1" height="1" fill="#0000ff"/>
<rect x="621" y="396.68" width="1" height="1.5" fill="#0000ff"/>
<rect x="623" y="396.68" width="1" height="1.5" fill="#0000ff"/>
<rect x="624" y="396.68" width="1" height="1.5" fill="#0000ff"/>
<rect x="620" y="399.11" width="1" height="1.5" fill="#0000ff"/>
<rect x="629" y="397.35" width="1" height="1.5" fill="#0000ff"/>
<rect x="630" y="396.4" width="1" height="1.5" fill="#0000ff"/>
<rect x="633" y="397.35" width="1" height="1.5" fill="#0000ff"/>
<rect x="635" y="396.68" width="1" height="1.5" fill="#0000ff"/>
<rect x="639" y="396.68" width="1" height="1.5" fill="#0000ff"/>
<rect x="642" y="396.4" width="1" height="1.5" fill="#0000ff"/>
<rect x="626" y="401.82" width="1" height="1.5" fill="#0000ff"/>
<rect x="628" y="401.82" width="1" height="1.5" fill="#0000ff"/>
<rect x="632" y="401.42" width="1" height="1.5" fill="#0000ff"/>
<rect x="633" y="402.1" width="1" height="1.5" fill="#0000ff"/>
<rect x="632" y="403.45" width="1" height="1.5" fill="#0000ff"/>
<rect x="623" y="421.07" width="1" height="1.5" fill="#0000ff"/>
<rect x="624" y="421.74" width="1" height="1.5" fill="#0000ff"/>
<rect x="626" y="421.07" width="1" height="1.5" fill="#0000ff"/>
<rect x="627" y="421.07" width="1" height="1.5" fill="#0000ff"/>
<rect x="628" y="421.74" width="1" height="1.5" fill="#0000ff"/>
<rect x="629" y="420.79" width="1" height="1.5" fill="#0000ff"/>
<rect x="631" y="421.07" width="1" height="1.5" fill="#0000ff"/>
<rect x="632" y="420.39" width="1" height="1.5" fill="#0000ff"/>
<rect x="633" y="421.07" width="1" height="1.5" fill="#0000ff"/>
<rect x="635" y="421.74" width="1" height="1.5" fill="#0000ff"/>
<rect x="636" y="420.79" width="1" height="1.5" fill="#0000ff"/>
<rect x="638" y="421.07" width="1" height="1.5" fill="#0000ff"/>
<rect x="640" y="421.74" width="1" height="1.5" fill="#0000ff"/>
<rect x="409.17" y="190" width="1.79" height="1" fill="#ff4dff"/>
<rect x="412.15" y="190" width="2.09" height="1" fill="#ff4dff"/>
<rect x="407.97" y="191" width="0.89" height="1" fill="#ff4dff"/>
<rect x="407.97" y="192" width="0.89" height="1" fill="#ff4dff"/>
<rect x="416.92" y="192" width="2.09" height="1" fill="#ff4dff"/>
<rect x="405.89" y="194" width="2.09" height="1" fill="#ff4dff"/>
<rect x="410.95" y="194" width="0.89" height="1" fill="#0000ff"/>
<rect x="416.02" y="194" width="0.89" height="1" fill="#ff4dff"/>
<rect x="419.0" y="194" width="2.09" height="1" fill="#ff4dff"/>
<rect x="405.89" y="195" width="2.09" height="1" fill="#0000ff"/>
<rect x="390.98" y="195" width="2.09" height="1" fill="#ff4dff"/>
<rect x="416.92" y="195" width="2.09" height="1" fill="#ff4dff"/>
<rect x="390.98" y="196" width="2.09" height="1" fill="#ff4dff"/>
<rect x="395.04" y="196" width="0.89" height="1" fill="#ff4dff"/>
<rect x="410.95" y="196" width="1.19" height="1" fill="#0000ff"/>
<rect x="412.15" y="196" width="1.79" height="1" fill="#0080ff"/>
<rect x="416.02" y="196" width="1.79" height="1" fill="#ff4dff"/>
<rect x="395.04" y="197" width="0.89" height="1" fill="#ff4dff"/>
<rect x="402.91" y="197" width="1.07" height="1" fill="#ff4dff"/>
<rect x="416.92" y="197" width="2.09" height="1" fill="#ff4dff"/>
<rect x="405.89" y="198" width="2.09" height="1" fill="#ff4dff"/>
<rect x="407.97" y="198" width="1.01" height="1" fill="#0000ff"/>
<rect x="410.95" y="198" width="0.89" height="1" fill="#ff4dff"/>
<rect x="413.93" y="198" width="2.98" height="1" fill="#ff4dff"/>
<rect x="393.07" y="199" width="1.97" height="1" fill="#ff4dff"/>
<rect x="411.85" y="199" width="5.07" height="1" fill="#ff4dff"/>
<rect x="413.04" y="200" width="3.88" height="1" fill="#ff4dff"/>
<rect x="405.89" y="201" width="2.09" height="1" fill="#ff4dff"/>
<rect x="410.95" y="201" width="5.07" height="1" fill="#ff4dff"/>
<rect x="420.97" y="201" width="1.01" height="1" fill="#0000ff"/>
<rect x="405.89" y="202" width="2.09" height="1" fill="#0000ff"/>
<rect x="399.92" y="202" width="0.89" height="1" fill="#ff4dff"/>
<rect x="402.91" y="202" width="1.07" height="1" fill="#ff4dff"/>
<rect x="416.02" y="202" width="2.98" height="1" fill="#ff4dff"/>
<rect x="399.92" y="203" width="0.89" height="1" fill="#ff4dff"/>
<rect x="410.95" y="203" width="0.89" height="1" fill="#0000ff"/>
<rect x="416.02" y="203" width="2.98" height="1" fill="#ff4dff"/>
<rect x="400.82" y="204" width="3.16" height="1" fill="#ff4dff"/>
<rect x="405.89" y="204" width="2.98" height="1" fill="#ff4dff"/>
<rect x="411.85" y="204" width="2.09" height="1" fill="#0000ff"/>
<rect x="413.93" y="204" width="2.09" height="1" fill="#ff4dff"/>
<rect x="419.0" y="204" width="1.97" height="1" fill="#0000ff"/>
<rect x="407.97" y="205" width="0.89" height="1" fill="#ff4dff"/>
<rect x="416.02" y="205" width="2.98" height="1" fill="#0000ff"/>
<rect x="420.97" y="205" width="1.01" height="1" fill="#ff4dff"/>
<rect x="399.92" y="206" width="2.98" height="1" fill="#ff4dff"/>
<rect x="411.85" y="206" width="2.09" height="1" fill="#0080ff"/>
<rect x="413.93" y="206" width="2.09" height="1" fill="#ff4dff"/>
<rect x="421.98" y="206" width="2.09" height="1" fill="#ff4dff"/>
<rect x="405.89" y="207" width="2.09" height="1" fill="#ff4dff"/>
<rect x="407.97" y="207" width="0.89" height="1" fill="#00ffff"/>
<rect x="410.95" y="207" width="0.89" height="1" fill="#0000ff"/>
<rect x="411.85" y="207" width="2.09" height="1" fill="#ff4dff"/>
<rect x="419.0" y="207" width="1.97" height="1" fill="#0000ff"/>
<rect x="398.02" y="208" width="1.91" height="1" fill="#ff4dff"/>
<rect x="408.87" y="208" width="2.98" height="1" fill="#ff4dff"/>
<rect x="411.85" y="208" width="1.19" height="1" fill="#0000ff"/>
<rect x="413.93" y="208" width="2.09" height="1" fill="#0080ff"/>
<rect x="416.92" y="208" width="2.09" height="1" fill="#0000ff"/>
<rect x="399.92" y="209" width="0.89" height="1" fill="#ff4dff"/>
<rect x="407.97" y="209" width="1.01" height="1" fill="#0000ff"/>
<rect x="408.99" y="209" width="1.97" height="1" fill="#ff4dff"/>
<rect x="410.95" y="209" width="5.07" height="1" fill="#0000ff"/>
<rect x="416.92" y="209" width="2.09" height="1" fill="#ff4dff"/>
<rect x="419.0" y="209" width="1.97" height="1" fill="#00ff00"/>
<rect x="424.96" y="209" width="2.09" height="1" fill="#ff4dff"/>
<rect x="398.02" y="210" width="2.8" height="1" fill="#ff4dff"/>
<rect x="404.1" y="210" width="1.79" height="1" fill="#ff4dff"/>
<rect x="408.99" y="210" width="2.86" height="1" fill="#ff4dff"/>
<rect x="416.92" y="210" width="2.09" height="1" fill="#0000ff"/>
<rect x="419.0" y="210" width="1.97" height="1" fill="#00ff00"/>
<rect x="402.91" y="211" width="1.07" height="1" fill="#0000ff"/>
<rect x="405.89" y="211" width="2.09" height="1" fill="#ff4dff"/>
<rect x="410.95" y="211" width="0.89" height="1" fill="#0000ff"/>
<rect x="416.92" y="211" width="2.09" height="1" fill="#ff4dff"/>
<rect x="421.98" y="211" width="2.98" height="1" fill="#ff4dff"/>
<rect x="408.99" y="212" width="1.97" height="1" fill="#00ffff"/>
<rect x="411.85" y="212" width="2.09" height="1" fill="#0000ff"/>
<rect x="416.92" y="212" width="2.09" height="1" fill="#ff4dff"/>
<rect x="420.97" y="212" width="3.1" height="1" fill="#0000ff"/>
<rect x="398.02" y="213" width="1.91" height="1" fill="#ff4dff"/>
<rect x="401.0" y="213" width="1.91" height="1" fill="#ff4dff"/>
<rect x="411.85" y="213" width="2.09" height="1" fill="#ff4dff"/>
<rect x="416.92" y="213" width="2.09" height="1" fill="#ff4dff"/>
<rect x="420.97" y="213" width="3.1" height="1" fill="#0000ff"/>
<rect x="424.07" y="213" width="2.98" height="1" fill="#ff4dff"/>
<rect x="395.04" y="214" width="0.89" height="1" fill="#ff4dff"/>
<rect x="401.0" y="214" width="1.91" height="1" fill="#ff4dff"/>
<rect x="408.99" y="214" width="1.97" height="1" fill="#ff4dff"/>
<rect x="416.02" y="214" width="2.98" height="1" fill="#ff4dff"/>
<rect x="389.97" y="215" width="1.01" height="1" fill="#ff4dff"/>
<rect x="411.85" y="215" width="2.09" height="1" fill="#ff4dff"/>
<rect x="419.0" y="215" width="1.97" height="1" fill="#0000ff"/>
<rect x="421.98" y="215" width="2.09" height="1" fill="#ff4dff"/>
<rect x="405.89" y="216" width="2.09" height="1" fill="#ff4dff"/>
<rect x="408.99" y="216" width="1.97" height="1" fill="#0000ff"/>
<rect x="411.85" y="216" width="2.09" height="1" fill="#ff4dff"/>
<rect x="413.93" y="216" width="2.09" height="1" fill="#0000ff"/>
<rect x="416.92" y="216" width="2.09" height="1" fill="#0000ff"/>
<rect x="419.0" y="216" width="1.97" height="1" fill="#ff4dff"/>
<rect x="421.98" y="216" width="2.09" height="1" fill="#ff4dff"/>
<rect x="424.96" y="216" width="2.09" height="1" fill="#ff4dff"/>
<rect x="402.91" y="217" width="2.98" height="1" fill="#ff4dff"/>
<rect x="408.99" y="217" width="1.97" height="1" fill="#ff4dff"/>
<rect x="411.85" y="217" width="2.09" height="1" fill="#0000ff"/>
<rect x="419.0" y="217" width="1.97" height="1" fill="#0000ff"/>
<rect x="408.99" y="218" width="1.97" height="1" fill="#ff4dff"/>
<rect x="411.85" y="218" width="2.09" height="1" fill="#0080ff"/>
<rect x="413.93" y="218" width="2.09" height="1" fill="#0000ff"/>
<rect x="419.0" y="218" width="1.97" height="1" fill="#0000ff"/>
<rect x="420.97" y="218" width="1.01" height="1" fill="#00ffff"/>
<rect x="427.05" y="218" width="2.09" height="1" fill="#ff4dff"/>
<rect x="398.02" y="219" width="1.91" height="1" fill="#ff4dff"/>
<rect x="411.85" y="219" width="2.09" height="1" fill="#0080ff"/>
<rect x="413.93" y="219" width="2.98" height="1" fill="#ff4dff"/>
<rect x="395.93" y="220" width="2.09" height="1" fill="#ff4dff"/>
<rect x="410.95" y="220" width="0.89" height="1" fill="#0000ff"/>
<rect x="416.02" y="220" width="0.89" height="1" fill="#0000ff"/>
<rect x="405.89" y="221" width="2.09" height="1" fill="#ff4dff"/>
<rect x="410.95" y="221" width="0.89" height="1" fill="#0000ff"/>
<rect x="413.93" y="221" width="2.09" height="1" fill="#ff4dff"/>
<rect x="416.92" y="221" width="2.09" height="1" fill="#0000ff"/>
<rect x="424.07" y="221" width="0.89" height="1" fill="#ff4dff"/>
<rect x="405.89" y="222" width="2.09" height="1" fill="#ff4dff"/>
<rect x="410.95" y="222" width="0.89" height="1" fill="#ff4dff"/>
<rect x="407.97" y="223" width="1.01" height="1" fill="#ff4dff"/>
<rect x="416.02" y="223" width="0.89" height="1" fill="#ff4dff"/>
<rect x="419.0" y="223" width="2.98" height="1" fill="#ff4dff"/>
<rect x="420.97" y="224" width="1.01" height="1" fill="#ff4dff"/>
<rect x="413.93" y="158" width="2.09" height="1" fill="#ff4dff"/>
<rect x="410.95" y="159" width="1.07" height="1" fill="#ff4dff"/>
<rect x="412.03" y="167" width="2.03" height="1" fill="#ff4dff"/>
<rect x="392.95" y="169" width="2.09" height="1" fill="#ff4dff"/>
<rect x="405.89" y="169" width="2.21" height="1" fill="#ff4dff"/>
<rect x="412.03" y="170" width="2.03" height="1" fill="#ff4dff"/>
<rect x="416.02" y="173" width="1.01" height="1" fill="#ff4dff"/>
<rect x="395.93" y="175" width="2.09" height="1" fill="#ff4dff"/>
<rect x="412.03" y="175" width="2.03" height="1" fill="#ff4dff"/>
<rect x="421.98" y="175" width="2.09" height="1" fill="#ff4dff"/>
<rect x="408.99" y="176" width="1.97" height="1" fill="#ff4dff"/>
<rect x="419.0" y="176" width="1.97" height="1" fill="#ff4dff"/>
<rect x="410.95" y="177" width="1.07" height="1" fill="#ff4dff"/>
<rect x="408.99" y="178" width="1.97" height="1" fill="#ff4dff"/>
<rect x="416.02" y="178" width="1.01" height="1" fill="#ff4dff"/>
<rect x="427.05" y="178" width="2.09" height="1" fill="#ff4dff"/>
<rect x="416.02" y="181" width="1.01" height="1" fill="#ff4dff"/>
<rect x="419.0" y="181" width="1.97" height="1" fill="#ff4dff"/>
<rect x="421.98" y="182" width="2.09" height="1" fill="#ff4dff"/>
<rect x="424.07" y="183" width="0.89" height="1" fill="#ff4dff"/>
<rect x="416.02" y="185" width="1.01" height="1" fill="#ff4dff"/>
<rect x="421.98" y="185" width="2.09" height="1" fill="#ff4dff"/>
<rect x="410.95" y="186" width="1.07" height="1" fill="#ff4dff"/>
<rect x="424.07" y="186" width="0.89" height="1" fill="#ff4dff"/>
<rect x="420.97" y="187" width="1.01" height="1" fill="#ff4dff"/>
<rect x="395.04" y="188" width="0.89" height="1" fill="#ff4dff"/>
<rect x="417.04" y="188" width="1.97" height="1" fill="#0000ff"/>
<rect x="412.03" y="189" width="2.03" height="1" fill="#ff4dff"/>
<rect x="416.02" y="189" width="1.01" height="1" fill="#ff4dff"/>
<rect x="419.0" y="189" width="1.97" height="1" fill="#ff4dff"/>
<rect x="419.04" y="374.98" width="1.97" height="0.89" fill="#ff4dff"/>
<rect x="423.98" y="374.98" width="1.01" height="0.89" fill="#ff4dff"/>
<rect x="395.96" y="377.96" width="2.09" height="0.89" fill="#ff4dff"/>
<rect x="400.02" y="377.96" width="2.98" height="0.89" fill="#ff4dff"/>
<rect x="391.07" y="382.02" width="1.91" height="0.89" fill="#ff4dff"/>
<rect x="408.01" y="383.03" width="0.95" height="1.97" fill="#ff4dff"/>
<rect x="417.01" y="383.03" width="2.03" height="1.97" fill="#ff4dff"/>
<rect x="395.96" y="386.01" width="2.09" height="1.97" fill="#ff4dff"/>
<rect x="408.01" y="386.01" width="0.95" height="1.97" fill="#ff4dff"/>
<rect x="408.96" y="387.98" width="2.03" height="0.89" fill="#ff4dff"/>
<rect x="412.06" y="386.01" width="1.97" height="1.97" fill="#ff4dff"/>
<rect x="422.02" y="386.01" width="1.97" height="1.97" fill="#ff4dff"/>
<rect x="414.03" y="387.98" width="2.03" height="2.98" fill="#ff4dff"/>
<rect x="401.03" y="388.99" width="1.97" height="1.97" fill="#ff4dff"/>
<rect x="412.06" y="390.96" width="1.97" height="1.01" fill="#ff4dff"/>
<rect x="417.01" y="390.96" width="2.03" height="1.01" fill="#ff4dff"/>
<rect x="425.0" y="390.96" width="1.97" height="2.98" fill="#ff4dff"/>
<rect x="405.98" y="391.97" width="2.03" height="1.97" fill="#ff4dff"/>
<rect x="414.03" y="391.97" width="2.98" height="2.98" fill="#ff4dff"/>
<rect x="419.04" y="391.97" width="2.98" height="2.98" fill="#ff4dff"/>
<rect x="421.0" y="394.95" width="1.01" height="2.09" fill="#ff4dff"/>
<rect x="403.0" y="397.93" width="2.98" height="1.01" fill="#ff4dff"/>
<rect x="409.97" y="397.93" width="2.09" height="1.01" fill="#ff4dff"/>
<rect x="419.04" y="397.93" width="1.97" height="2.98" fill="#ff4dff"/>
<rect x="405.98" y="398.95" width="2.03" height="1.97" fill="#ff4dff"/>
<rect x="404.01" y="400.92" width="1.97" height="0.89" fill="#ff4dff"/>
<rect x="417.01" y="400.92" width="2.03" height="2.98" fill="#ff4dff"/>
<rect x="414.03" y="401.81" width="2.03" height="2.09" fill="#ff4dff"/>
<rect x="408.01" y="401.81" width="0.95" height="2.98" fill="#ff4dff"/>
<rect x="397.93" y="403.9" width="3.1" height="1.01" fill="#ff4dff"/>
<rect x="408.96" y="404.91" width="2.03" height="1.97" fill="#ff4dff"/>
<rect x="416.05" y="404.91" width="0.95" height="1.97" fill="#ff4dff"/>
<rect x="419.04" y="407.0" width="1.97" height="0.89" fill="#ff4dff"/>
<rect x="410.99" y="407.89" width="3.04" height="1.97" fill="#ff4dff"/>
<rect x="394.95" y="375.88" width="1.01" height="2.09" fill="#0000ff"/>
<rect x="392.98" y="383.03" width="1.97" height="1.97" fill="#0000ff"/>
<rect x="401.03" y="387.98" width="2.98" height="1.91" fill="#0000ff"/>
<rect x="403.0" y="389.89" width="1.01" height="1.07" fill="#0000ff"/>
<rect x="405.98" y="388.99" width="2.03" height="1.97" fill="#0000ff"/>
<rect x="416.05" y="388.99" width="0.95" height="2.98" fill="#0000ff"/>
<rect x="408.01" y="391.97" width="1.97" height="1.97" fill="#0000ff"/>
<rect x="410.99" y="393.94" width="1.07" height="2.98" fill="#0000ff"/>
<rect x="414.03" y="394.95" width="2.03" height="1.97" fill="#0000ff"/>
<rect x="417.01" y="393.94" width="2.03" height="2.98" fill="#0000ff"/>
<rect x="422.02" y="393.94" width="1.97" height="1.01" fill="#0000ff"/>
<rect x="422.02" y="396.92" width="1.97" height="1.01" fill="#0000ff"/>
<rect x="404.01" y="398.95" width="1.97" height="1.97" fill="#0000ff"/>
<rect x="408.96" y="398.95" width="2.03" height="1.97" fill="#0000ff"/>
<rect x="403.0" y="400.92" width="1.01" height="0.89" fill="#0000ff"/>
<rect x="400.02" y="401.93" width="1.01" height="1.97" fill="#0000ff"/>
<rect x="412.06" y="400.92" width="1.97" height="0.89" fill="#0000ff"/>
<rect x="408.01" y="404.91" width="0.95" height="1.97" fill="#0000ff"/>
<rect x="410.99" y="406.88" width="1.07" height="1.01" fill="#0000ff"/>
<rect x="414.03" y="404.91" width="2.03" height="1.97" fill="#0000ff"/>
<rect x="416.05" y="406.88" width="0.95" height="1.01" fill="#0000ff"/>
<rect x="409.97" y="391.97" width="1.01" height="1.97" fill="#0080ff"/>
<rect x="419.04" y="396.92" width="1.97" height="1.01" fill="#0080ff"/>
<rect x="408.01" y="400.92" width="1.97" height="0.89" fill="#0080ff"/>
<rect x="403.0" y="387.98" width="1.01" height="1.01" fill="#0080ff"/>
<rect x="408.96" y="393.94" width="2.03" height="1.01" fill="#00ffff"/>
<rect x="412.06" y="397.93" width="1.97" height="2.98" fill="#00ffff"/>
<rect x="416.05" y="398.95" width="2.98" height="1.97" fill="#00ffff"/>
<rect x="408.96" y="401.81" width="2.03" height="2.09" fill="#00ffff"/>
<rect x="412.06" y="403.9" width="1.97" height="2.98" fill="#00ffff"/>
<rect x="414.03" y="398.95" width="2.03" height="1.97" fill="#00ff00"/>
<rect x="410.99" y="401.93" width="1.07" height="1.97" fill="#00ff00"/>
<rect x="416.05" y="396.92" width="0.95" height="1.01" fill="#008040"/>
<rect x="410.99" y="403.9" width="1.07" height="1.01" fill="#008040"/>
<rect x="414.03" y="397.93" width="2.03" height="1.01" fill="#ff8000"/>
<rect x="420.99" y="418.03" width="1.08" height="1.9" fill="#ff4dff"/>
<rect x="416.92" y="419.92" width="4.07" height="1.08" fill="#ff4dff"/>
<rect x="416.92" y="422.91" width="2.06" height="1.08" fill="#ff4dff"/>
<rect x="428.85" y="423.18" width="1.08" height="0.81" fill="#ff4dff"/>
<rect x="429.93" y="423.99" width="2.01" height="1.9" fill="#ff4dff"/>
<rect x="416.92" y="421.01" width="2.06" height="1.9" fill="#0080ff"/>
<rect x="418.98" y="421.01" width="3.09" height="1.9" fill="#ffff00"/>
<rect x="418.98" y="422.91" width="2.01" height="1.08" fill="#008040"/>
<rect x="423.97" y="422.91" width="1.08" height="1.08" fill="#008040"/>
<rect x="422.07" y="422.91" width="1.9" height="1.08" fill="#ff0080"/>
<rect x="425.05" y="422.91" width="1.9" height="1.08" fill="#0000ff"/>
<rect x="416.92" y="423.99" width="4.07" height="1.9" fill="#0000ff"/>
<rect x="422.07" y="423.99" width="1.9" height="1.9" fill="#0000ff"/>
<rect x="426.95" y="423.99" width="1.9" height="1.9" fill="#0000ff"/>
<rect x="428.85" y="425.89" width="1.08" height="1.08" fill="#0000ff"/>
<rect x="423.97" y="423.99" width="2.98" height="1.9" fill="#00ff00"/>
<rect x="73.5" y="41.5" width="615" height="88.9" fill="none" stroke="#000" stroke-width="1.15"/>
<rect x="73.5" y="157.5" width="484" height="87.9" fill="none" stroke="#000" stroke-width="1.15"/>
<rect x="595.5" y="157.5" width="93" height="87.9" fill="none" stroke="#000" stroke-width="1.15"/>
<rect x="73.5" y="273.5" width="484" height="436" fill="none" stroke="#000" stroke-width="1.15"/>
<rect x="595.5" y="273.5" width="93" height="436" fill="none" stroke="#000" stroke-width="1.15"/>
<rect x="68.40" y="763.5" width="23.65" height="24.70" fill="#ff50ff"/>
<rect x="91.05" y="763.5" width="24.45" height="24.70" fill="#8000ff"/>
<rect x="114.50" y="763.5" width="24.40" height="24.70" fill="#8000ff"/>
<rect x="137.90" y="763.5" width="25.00" height="24.70" fill="#0000ff"/>
<rect x="161.90" y="763.5" width="25.10" height="24.70" fill="#0000ff"/>
<rect x="186.00" y="763.5" width="23.80" height="24.70" fill="#0080ff"/>
<rect x="208.80" y="763.5" width="25.30" height="24.70" fill="#00ffff"/>
<rect x="233.10" y="763.5" width="25.10" height="24.70" fill="#00ff00"/>
<rect x="257.20" y="763.5" width="23.80" height="24.70" fill="#008040"/>
<rect x="280.00" y="763.5" width="24.85" height="24.70" fill="#408080"/>
<rect x="303.85" y="763.5" width="24.25" height="24.70" fill="#ffff00"/>
<rect x="327.10" y="763.5" width="24.80" height="24.70" fill="#ffc080"/>
<rect x="350.90" y="763.5" width="25.10" height="24.70" fill="#ff8000"/>
<rect x="375.00" y="763.5" width="24.10" height="24.70" fill="#ff0080"/>
<rect x="398.10" y="763.5" width="24.90" height="24.70" fill="#ff0000"/>
<rect x="422.00" y="763.5" width="24.20" height="24.70" fill="#c00000"/>
<rect x="445.20" y="763.5" width="24.70" height="24.70" fill="#800000"/>
<rect x="468.90" y="763.5" width="25.10" height="24.70" fill="#000000"/>
<rect x="493.00" y="763.5" width="23.80" height="24.70" fill="#808080"/>
<rect x="515.80" y="763.5" width="24.90" height="24.70" fill="#c0c0c0"/>
<rect x="539.70" y="763.5" width="24.65" height="24.70" fill="#ffffff"/>
<line x1="143.05" y1="788.2" x2="143.05" y2="785.6" stroke="#000" stroke-width="1.1"/>
<line x1="186.71" y1="788.2" x2="186.71" y2="785.6" stroke="#000" stroke-width="1.1"/>
<line x1="217.7" y1="788.2" x2="217.7" y2="785.6" stroke="#000" stroke-width="1.1"/>
<line x1="241.73" y1="788.2" x2="241.73" y2="785.6" stroke="#000" stroke-width="1.1"/>
<line x1="261.36" y1="788.2" x2="261.36" y2="785.6" stroke="#000" stroke-width="1.1"/>
<line x1="277.96" y1="788.2" x2="277.96" y2="785.6" stroke="#000" stroke-width="1.1"/>
<line x1="292.34" y1="788.2" x2="292.34" y2="785.6" stroke="#000" stroke-width="1.1"/>
<line x1="305.03" y1="788.2" x2="305.03" y2="785.6" stroke="#000" stroke-width="1.1"/>
<line x1="316.38" y1="788.2" x2="316.38" y2="783.5" stroke="#000" stroke-width="1.1"/>
<line x1="391.02" y1="788.2" x2="391.02" y2="785.6" stroke="#000" stroke-width="1.1"/>
<line x1="434.69" y1="788.2" x2="434.69" y2="785.6" stroke="#000" stroke-width="1.1"/>
<line x1="465.67" y1="788.2" x2="465.67" y2="785.6" stroke="#000" stroke-width="1.1"/>
<line x1="489.7" y1="788.2" x2="489.7" y2="785.6" stroke="#000" stroke-width="1.1"/>
<line x1="509.34" y1="788.2" x2="509.34" y2="785.6" stroke="#000" stroke-width="1.1"/>
<line x1="525.94" y1="788.2" x2="525.94" y2="785.6" stroke="#000" stroke-width="1.1"/>
<line x1="540.32" y1="788.2" x2="540.32" y2="785.6" stroke="#000" stroke-width="1.1"/>
<line x1="553" y1="788.2" x2="553" y2="785.6" stroke="#000" stroke-width="1.1"/>
<rect x="68.4" y="763.5" width="495.95" height="24.7" fill="none" stroke="#000" stroke-width="1.15"/>
<text x="64.22" y="802" font-size="10.9" text-anchor="start" fill="#000" textLength="6.76" lengthAdjust="spacingAndGlyphs">1</text>
<text x="308.71" y="802" font-size="10.9" text-anchor="start" fill="#000" textLength="13.52" lengthAdjust="spacingAndGlyphs">10</text>
<text x="553.31" y="802" font-size="10.9" text-anchor="start" fill="#000" textLength="20.29" lengthAdjust="spacingAndGlyphs">100</text>
<text x="583.2" y="784" font-size="16.6" text-anchor="start" fill="#000" textLength="114.3" lengthAdjust="spacingAndGlyphs">Sources/7 km²</text>
</g>
</svg>
</body></html>
